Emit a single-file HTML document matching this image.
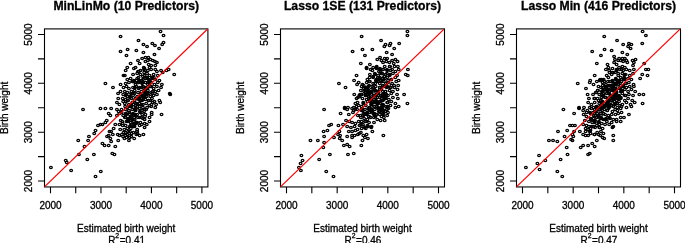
<!DOCTYPE html><html><head><meta charset="utf-8"><style>html,body{margin:0;padding:0;background:#fff;width:685px;height:243px;overflow:hidden}svg{display:block;will-change:transform}text{font-family:"Liberation Sans",sans-serif;fill:#000;stroke:#000;stroke-width:0.3px}</style></head><body>
<svg width="685" height="243" viewBox="0 0 685 243">
<text x="126.2" y="9.5" font-size="12.2" font-weight="bold" text-anchor="middle">MinLinMo (10 Predictors)</text>
<g fill="none" stroke="#000" stroke-width="1.3"><ellipse cx="120.54" cy="36.50" rx="1.35" ry="1.15"/><ellipse cx="120.54" cy="51.50" rx="1.35" ry="1.15"/><ellipse cx="160.54" cy="31.50" rx="1.35" ry="1.15"/><ellipse cx="163.51" cy="35.50" rx="1.35" ry="1.15"/><ellipse cx="138.49" cy="40.50" rx="1.35" ry="1.15"/><ellipse cx="143.42" cy="44.50" rx="1.35" ry="1.15"/><ellipse cx="147.05" cy="46.50" rx="1.35" ry="1.15"/><ellipse cx="152.31" cy="43.50" rx="1.35" ry="1.15"/><ellipse cx="154.95" cy="45.50" rx="1.35" ry="1.15"/><ellipse cx="162.19" cy="44.50" rx="1.35" ry="1.15"/><ellipse cx="163.51" cy="42.50" rx="1.35" ry="1.15"/><ellipse cx="159.06" cy="48.50" rx="1.35" ry="1.15"/><ellipse cx="127.62" cy="49.50" rx="1.35" ry="1.15"/><ellipse cx="136.35" cy="50.50" rx="1.35" ry="1.15"/><ellipse cx="143.42" cy="52.50" rx="1.35" ry="1.15"/><ellipse cx="126.47" cy="55.50" rx="1.35" ry="1.15"/><ellipse cx="154.45" cy="54.50" rx="1.35" ry="1.15"/><ellipse cx="137.99" cy="60.50" rx="1.35" ry="1.15"/><ellipse cx="142.11" cy="58.50" rx="1.35" ry="1.15"/><ellipse cx="145.40" cy="57.50" rx="1.35" ry="1.15"/><ellipse cx="148.36" cy="57.50" rx="1.35" ry="1.15"/><ellipse cx="150.34" cy="59.50" rx="1.35" ry="1.15"/><ellipse cx="152.81" cy="60.50" rx="1.35" ry="1.15"/><ellipse cx="145.40" cy="61.50" rx="1.35" ry="1.15"/><ellipse cx="147.87" cy="60.50" rx="1.35" ry="1.15"/><ellipse cx="154.95" cy="61.50" rx="1.35" ry="1.15"/><ellipse cx="156.92" cy="62.50" rx="1.35" ry="1.15"/><ellipse cx="139.64" cy="63.50" rx="1.35" ry="1.15"/><ellipse cx="130.58" cy="63.50" rx="1.35" ry="1.15"/><ellipse cx="148.69" cy="64.50" rx="1.35" ry="1.15"/><ellipse cx="151.16" cy="65.50" rx="1.35" ry="1.15"/><ellipse cx="155.28" cy="65.50" rx="1.35" ry="1.15"/><ellipse cx="135.52" cy="67.50" rx="1.35" ry="1.15"/><ellipse cx="143.75" cy="67.50" rx="1.35" ry="1.15"/><ellipse cx="127.29" cy="67.50" rx="1.35" ry="1.15"/><ellipse cx="149.51" cy="67.50" rx="1.35" ry="1.15"/><ellipse cx="123.51" cy="75.50" rx="1.35" ry="1.15"/><ellipse cx="105.40" cy="83.50" rx="1.35" ry="1.15"/><ellipse cx="112.97" cy="87.50" rx="1.35" ry="1.15"/><ellipse cx="120.54" cy="84.50" rx="1.35" ry="1.15"/><ellipse cx="123.51" cy="87.50" rx="1.35" ry="1.15"/><ellipse cx="120.54" cy="91.50" rx="1.35" ry="1.15"/><ellipse cx="118.07" cy="93.50" rx="1.35" ry="1.15"/><ellipse cx="123.18" cy="94.50" rx="1.35" ry="1.15"/><ellipse cx="118.24" cy="98.50" rx="1.35" ry="1.15"/><ellipse cx="122.68" cy="98.50" rx="1.35" ry="1.15"/><ellipse cx="116.92" cy="102.50" rx="1.35" ry="1.15"/><ellipse cx="119.39" cy="104.50" rx="1.35" ry="1.15"/><ellipse cx="123.18" cy="101.50" rx="1.35" ry="1.15"/><ellipse cx="125.65" cy="70.50" rx="1.35" ry="1.15"/><ellipse cx="133.88" cy="68.50" rx="1.35" ry="1.15"/><ellipse cx="137.99" cy="71.50" rx="1.35" ry="1.15"/><ellipse cx="140.46" cy="70.50" rx="1.35" ry="1.15"/><ellipse cx="144.08" cy="69.50" rx="1.35" ry="1.15"/><ellipse cx="147.87" cy="70.50" rx="1.35" ry="1.15"/><ellipse cx="151.16" cy="69.50" rx="1.35" ry="1.15"/><ellipse cx="155.28" cy="69.50" rx="1.35" ry="1.15"/><ellipse cx="156.92" cy="71.50" rx="1.35" ry="1.15"/><ellipse cx="161.04" cy="70.50" rx="1.35" ry="1.15"/><ellipse cx="124.82" cy="75.50" rx="1.35" ry="1.15"/><ellipse cx="133.05" cy="74.50" rx="1.35" ry="1.15"/><ellipse cx="137.17" cy="73.50" rx="1.35" ry="1.15"/><ellipse cx="140.46" cy="74.50" rx="1.35" ry="1.15"/><ellipse cx="142.93" cy="76.50" rx="1.35" ry="1.15"/><ellipse cx="147.05" cy="73.50" rx="1.35" ry="1.15"/><ellipse cx="149.51" cy="75.50" rx="1.35" ry="1.15"/><ellipse cx="153.63" cy="74.50" rx="1.35" ry="1.15"/><ellipse cx="157.74" cy="75.50" rx="1.35" ry="1.15"/><ellipse cx="162.68" cy="72.50" rx="1.35" ry="1.15"/><ellipse cx="127.29" cy="79.50" rx="1.35" ry="1.15"/><ellipse cx="130.58" cy="78.50" rx="1.35" ry="1.15"/><ellipse cx="133.88" cy="80.50" rx="1.35" ry="1.15"/><ellipse cx="137.17" cy="78.50" rx="1.35" ry="1.15"/><ellipse cx="139.64" cy="80.50" rx="1.35" ry="1.15"/><ellipse cx="142.93" cy="79.50" rx="1.35" ry="1.15"/><ellipse cx="145.40" cy="78.50" rx="1.35" ry="1.15"/><ellipse cx="148.69" cy="79.50" rx="1.35" ry="1.15"/><ellipse cx="151.98" cy="77.50" rx="1.35" ry="1.15"/><ellipse cx="155.28" cy="79.50" rx="1.35" ry="1.15"/><ellipse cx="159.39" cy="80.50" rx="1.35" ry="1.15"/><ellipse cx="125.65" cy="83.50" rx="1.35" ry="1.15"/><ellipse cx="128.94" cy="82.50" rx="1.35" ry="1.15"/><ellipse cx="132.23" cy="81.50" rx="1.35" ry="1.15"/><ellipse cx="135.52" cy="84.50" rx="1.35" ry="1.15"/><ellipse cx="138.81" cy="82.50" rx="1.35" ry="1.15"/><ellipse cx="142.11" cy="83.50" rx="1.35" ry="1.15"/><ellipse cx="145.40" cy="82.50" rx="1.35" ry="1.15"/><ellipse cx="147.87" cy="84.50" rx="1.35" ry="1.15"/><ellipse cx="151.16" cy="82.50" rx="1.35" ry="1.15"/><ellipse cx="154.45" cy="84.50" rx="1.35" ry="1.15"/><ellipse cx="157.74" cy="82.50" rx="1.35" ry="1.15"/><ellipse cx="161.86" cy="84.50" rx="1.35" ry="1.15"/><ellipse cx="126.47" cy="86.50" rx="1.35" ry="1.15"/><ellipse cx="128.94" cy="88.50" rx="1.35" ry="1.15"/><ellipse cx="133.05" cy="87.50" rx="1.35" ry="1.15"/><ellipse cx="136.35" cy="86.50" rx="1.35" ry="1.15"/><ellipse cx="139.64" cy="87.50" rx="1.35" ry="1.15"/><ellipse cx="142.93" cy="86.50" rx="1.35" ry="1.15"/><ellipse cx="146.22" cy="88.50" rx="1.35" ry="1.15"/><ellipse cx="150.34" cy="86.50" rx="1.35" ry="1.15"/><ellipse cx="153.63" cy="88.50" rx="1.35" ry="1.15"/><ellipse cx="156.92" cy="86.50" rx="1.35" ry="1.15"/><ellipse cx="161.04" cy="87.50" rx="1.35" ry="1.15"/><ellipse cx="124.82" cy="91.50" rx="1.35" ry="1.15"/><ellipse cx="127.29" cy="92.50" rx="1.35" ry="1.15"/><ellipse cx="131.41" cy="91.50" rx="1.35" ry="1.15"/><ellipse cx="134.70" cy="90.50" rx="1.35" ry="1.15"/><ellipse cx="137.99" cy="92.50" rx="1.35" ry="1.15"/><ellipse cx="141.28" cy="91.50" rx="1.35" ry="1.15"/><ellipse cx="144.58" cy="92.50" rx="1.35" ry="1.15"/><ellipse cx="147.87" cy="90.50" rx="1.35" ry="1.15"/><ellipse cx="151.16" cy="92.50" rx="1.35" ry="1.15"/><ellipse cx="155.28" cy="91.50" rx="1.35" ry="1.15"/><ellipse cx="158.57" cy="90.50" rx="1.35" ry="1.15"/><ellipse cx="126.47" cy="94.50" rx="1.35" ry="1.15"/><ellipse cx="129.76" cy="96.50" rx="1.35" ry="1.15"/><ellipse cx="133.05" cy="95.50" rx="1.35" ry="1.15"/><ellipse cx="137.17" cy="96.50" rx="1.35" ry="1.15"/><ellipse cx="140.46" cy="94.50" rx="1.35" ry="1.15"/><ellipse cx="143.75" cy="96.50" rx="1.35" ry="1.15"/><ellipse cx="147.05" cy="94.50" rx="1.35" ry="1.15"/><ellipse cx="150.34" cy="96.50" rx="1.35" ry="1.15"/><ellipse cx="153.63" cy="95.50" rx="1.35" ry="1.15"/><ellipse cx="156.92" cy="94.50" rx="1.35" ry="1.15"/><ellipse cx="125.65" cy="99.50" rx="1.35" ry="1.15"/><ellipse cx="128.12" cy="100.50" rx="1.35" ry="1.15"/><ellipse cx="131.41" cy="98.50" rx="1.35" ry="1.15"/><ellipse cx="134.70" cy="100.50" rx="1.35" ry="1.15"/><ellipse cx="138.81" cy="99.50" rx="1.35" ry="1.15"/><ellipse cx="142.11" cy="100.50" rx="1.35" ry="1.15"/><ellipse cx="145.40" cy="99.50" rx="1.35" ry="1.15"/><ellipse cx="148.69" cy="100.50" rx="1.35" ry="1.15"/><ellipse cx="151.98" cy="98.50" rx="1.35" ry="1.15"/><ellipse cx="154.45" cy="101.50" rx="1.35" ry="1.15"/><ellipse cx="159.39" cy="100.50" rx="1.35" ry="1.15"/><ellipse cx="124.82" cy="103.50" rx="1.35" ry="1.15"/><ellipse cx="128.94" cy="104.50" rx="1.35" ry="1.15"/><ellipse cx="132.23" cy="102.50" rx="1.35" ry="1.15"/><ellipse cx="135.52" cy="105.50" rx="1.35" ry="1.15"/><ellipse cx="139.64" cy="103.50" rx="1.35" ry="1.15"/><ellipse cx="142.93" cy="104.50" rx="1.35" ry="1.15"/><ellipse cx="146.22" cy="103.50" rx="1.35" ry="1.15"/><ellipse cx="149.51" cy="105.50" rx="1.35" ry="1.15"/><ellipse cx="152.81" cy="102.50" rx="1.35" ry="1.15"/><ellipse cx="156.10" cy="104.50" rx="1.35" ry="1.15"/><ellipse cx="160.21" cy="102.50" rx="1.35" ry="1.15"/><ellipse cx="127.29" cy="107.50" rx="1.35" ry="1.15"/><ellipse cx="131.41" cy="106.50" rx="1.35" ry="1.15"/><ellipse cx="135.52" cy="107.50" rx="1.35" ry="1.15"/><ellipse cx="139.64" cy="106.50" rx="1.35" ry="1.15"/><ellipse cx="142.93" cy="107.50" rx="1.35" ry="1.15"/><ellipse cx="147.05" cy="107.50" rx="1.35" ry="1.15"/><ellipse cx="151.16" cy="106.50" rx="1.35" ry="1.15"/><ellipse cx="155.28" cy="107.50" rx="1.35" ry="1.15"/><ellipse cx="166.47" cy="70.50" rx="1.35" ry="1.15"/><ellipse cx="168.61" cy="69.50" rx="1.35" ry="1.15"/><ellipse cx="174.21" cy="74.50" rx="1.35" ry="1.15"/><ellipse cx="169.76" cy="93.50" rx="1.35" ry="1.15"/><ellipse cx="170.26" cy="94.50" rx="1.35" ry="1.15"/><ellipse cx="100.46" cy="108.50" rx="1.35" ry="1.15"/><ellipse cx="105.40" cy="108.50" rx="1.35" ry="1.15"/><ellipse cx="111.16" cy="108.50" rx="1.35" ry="1.15"/><ellipse cx="116.92" cy="109.50" rx="1.35" ry="1.15"/><ellipse cx="118.57" cy="111.50" rx="1.35" ry="1.15"/><ellipse cx="121.53" cy="109.50" rx="1.35" ry="1.15"/><ellipse cx="108.69" cy="113.50" rx="1.35" ry="1.15"/><ellipse cx="110.34" cy="115.50" rx="1.35" ry="1.15"/><ellipse cx="116.92" cy="115.50" rx="1.35" ry="1.15"/><ellipse cx="119.39" cy="113.50" rx="1.35" ry="1.15"/><ellipse cx="123.18" cy="115.50" rx="1.35" ry="1.15"/><ellipse cx="106.72" cy="120.50" rx="1.35" ry="1.15"/><ellipse cx="105.40" cy="122.50" rx="1.35" ry="1.15"/><ellipse cx="97.99" cy="125.50" rx="1.35" ry="1.15"/><ellipse cx="100.46" cy="124.50" rx="1.35" ry="1.15"/><ellipse cx="102.44" cy="124.50" rx="1.35" ry="1.15"/><ellipse cx="115.28" cy="124.50" rx="1.35" ry="1.15"/><ellipse cx="119.39" cy="124.50" rx="1.35" ry="1.15"/><ellipse cx="122.19" cy="121.50" rx="1.35" ry="1.15"/><ellipse cx="122.68" cy="125.50" rx="1.35" ry="1.15"/><ellipse cx="113.63" cy="128.50" rx="1.35" ry="1.15"/><ellipse cx="120.21" cy="129.50" rx="1.35" ry="1.15"/><ellipse cx="95.52" cy="130.50" rx="1.35" ry="1.15"/><ellipse cx="94.21" cy="133.50" rx="1.35" ry="1.15"/><ellipse cx="109.51" cy="131.50" rx="1.35" ry="1.15"/><ellipse cx="111.16" cy="131.50" rx="1.35" ry="1.15"/><ellipse cx="112.81" cy="134.50" rx="1.35" ry="1.15"/><ellipse cx="108.69" cy="135.50" rx="1.35" ry="1.15"/><ellipse cx="117.74" cy="134.50" rx="1.35" ry="1.15"/><ellipse cx="119.39" cy="135.50" rx="1.35" ry="1.15"/><ellipse cx="121.86" cy="134.50" rx="1.35" ry="1.15"/><ellipse cx="123.51" cy="132.50" rx="1.35" ry="1.15"/><ellipse cx="88.94" cy="136.50" rx="1.35" ry="1.15"/><ellipse cx="88.12" cy="140.50" rx="1.35" ry="1.15"/><ellipse cx="107.05" cy="136.50" rx="1.35" ry="1.15"/><ellipse cx="110.34" cy="138.50" rx="1.35" ry="1.15"/><ellipse cx="111.16" cy="141.50" rx="1.35" ry="1.15"/><ellipse cx="118.24" cy="140.50" rx="1.35" ry="1.15"/><ellipse cx="102.44" cy="143.50" rx="1.35" ry="1.15"/><ellipse cx="104.58" cy="145.50" rx="1.35" ry="1.15"/><ellipse cx="108.69" cy="145.50" rx="1.35" ry="1.15"/><ellipse cx="115.28" cy="146.50" rx="1.35" ry="1.15"/><ellipse cx="84.49" cy="146.50" rx="1.35" ry="1.15"/><ellipse cx="125.65" cy="109.50" rx="1.35" ry="1.15"/><ellipse cx="128.94" cy="110.50" rx="1.35" ry="1.15"/><ellipse cx="132.23" cy="109.50" rx="1.35" ry="1.15"/><ellipse cx="135.52" cy="110.50" rx="1.35" ry="1.15"/><ellipse cx="139.64" cy="108.50" rx="1.35" ry="1.15"/><ellipse cx="142.11" cy="110.50" rx="1.35" ry="1.15"/><ellipse cx="144.58" cy="109.50" rx="1.35" ry="1.15"/><ellipse cx="151.65" cy="112.50" rx="1.35" ry="1.15"/><ellipse cx="151.65" cy="114.50" rx="1.35" ry="1.15"/><ellipse cx="161.53" cy="114.50" rx="1.35" ry="1.15"/><ellipse cx="125.65" cy="113.50" rx="1.35" ry="1.15"/><ellipse cx="129.76" cy="114.50" rx="1.35" ry="1.15"/><ellipse cx="133.05" cy="113.50" rx="1.35" ry="1.15"/><ellipse cx="137.17" cy="114.50" rx="1.35" ry="1.15"/><ellipse cx="140.46" cy="112.50" rx="1.35" ry="1.15"/><ellipse cx="145.40" cy="114.50" rx="1.35" ry="1.15"/><ellipse cx="124.82" cy="117.50" rx="1.35" ry="1.15"/><ellipse cx="128.12" cy="118.50" rx="1.35" ry="1.15"/><ellipse cx="131.41" cy="117.50" rx="1.35" ry="1.15"/><ellipse cx="134.70" cy="119.50" rx="1.35" ry="1.15"/><ellipse cx="137.99" cy="117.50" rx="1.35" ry="1.15"/><ellipse cx="141.28" cy="117.50" rx="1.35" ry="1.15"/><ellipse cx="144.58" cy="119.50" rx="1.35" ry="1.15"/><ellipse cx="149.51" cy="117.50" rx="1.35" ry="1.15"/><ellipse cx="149.51" cy="121.50" rx="1.35" ry="1.15"/><ellipse cx="126.47" cy="121.50" rx="1.35" ry="1.15"/><ellipse cx="130.58" cy="120.50" rx="1.35" ry="1.15"/><ellipse cx="133.88" cy="121.50" rx="1.35" ry="1.15"/><ellipse cx="137.17" cy="122.50" rx="1.35" ry="1.15"/><ellipse cx="140.46" cy="122.50" rx="1.35" ry="1.15"/><ellipse cx="146.72" cy="124.50" rx="1.35" ry="1.15"/><ellipse cx="125.65" cy="125.50" rx="1.35" ry="1.15"/><ellipse cx="130.58" cy="125.50" rx="1.35" ry="1.15"/><ellipse cx="139.64" cy="125.50" rx="1.35" ry="1.15"/><ellipse cx="144.58" cy="127.50" rx="1.35" ry="1.15"/><ellipse cx="127.29" cy="128.50" rx="1.35" ry="1.15"/><ellipse cx="137.17" cy="129.50" rx="1.35" ry="1.15"/><ellipse cx="125.65" cy="132.50" rx="1.35" ry="1.15"/><ellipse cx="128.12" cy="131.50" rx="1.35" ry="1.15"/><ellipse cx="137.17" cy="131.50" rx="1.35" ry="1.15"/><ellipse cx="127.29" cy="134.50" rx="1.35" ry="1.15"/><ellipse cx="136.35" cy="134.50" rx="1.35" ry="1.15"/><ellipse cx="139.64" cy="135.50" rx="1.35" ry="1.15"/><ellipse cx="143.42" cy="134.50" rx="1.35" ry="1.15"/><ellipse cx="126.47" cy="137.50" rx="1.35" ry="1.15"/><ellipse cx="129.76" cy="137.50" rx="1.35" ry="1.15"/><ellipse cx="134.21" cy="138.50" rx="1.35" ry="1.15"/><ellipse cx="128.94" cy="140.50" rx="1.35" ry="1.15"/><ellipse cx="83.01" cy="109.50" rx="1.35" ry="1.15"/><ellipse cx="78.24" cy="140.50" rx="1.35" ry="1.15"/><ellipse cx="50.91" cy="167.50" rx="1.35" ry="1.15"/><ellipse cx="65.73" cy="160.50" rx="1.35" ry="1.15"/><ellipse cx="66.72" cy="162.50" rx="1.35" ry="1.15"/><ellipse cx="71.16" cy="170.50" rx="1.35" ry="1.15"/><ellipse cx="78.90" cy="154.50" rx="1.35" ry="1.15"/><ellipse cx="93.88" cy="154.50" rx="1.35" ry="1.15"/><ellipse cx="87.29" cy="159.50" rx="1.35" ry="1.15"/><ellipse cx="112.31" cy="153.50" rx="1.35" ry="1.15"/><ellipse cx="114.45" cy="154.50" rx="1.35" ry="1.15"/><ellipse cx="100.79" cy="171.50" rx="1.35" ry="1.15"/><ellipse cx="95.52" cy="176.50" rx="1.35" ry="1.15"/><ellipse cx="134.14" cy="117.50" rx="1.35" ry="1.15"/><ellipse cx="139.59" cy="81.50" rx="1.35" ry="1.15"/><ellipse cx="130.23" cy="117.50" rx="1.35" ry="1.15"/><ellipse cx="148.87" cy="93.50" rx="1.35" ry="1.15"/><ellipse cx="121.63" cy="112.50" rx="1.35" ry="1.15"/><ellipse cx="145.43" cy="88.50" rx="1.35" ry="1.15"/><ellipse cx="153.78" cy="77.50" rx="1.35" ry="1.15"/><ellipse cx="135.38" cy="98.50" rx="1.35" ry="1.15"/><ellipse cx="125.15" cy="106.50" rx="1.35" ry="1.15"/><ellipse cx="139.61" cy="96.50" rx="1.35" ry="1.15"/><ellipse cx="135.65" cy="103.50" rx="1.35" ry="1.15"/><ellipse cx="144.70" cy="95.50" rx="1.35" ry="1.15"/><ellipse cx="145.58" cy="82.50" rx="1.35" ry="1.15"/><ellipse cx="133.48" cy="126.50" rx="1.35" ry="1.15"/><ellipse cx="128.94" cy="118.50" rx="1.35" ry="1.15"/><ellipse cx="129.95" cy="120.50" rx="1.35" ry="1.15"/><ellipse cx="135.35" cy="110.50" rx="1.35" ry="1.15"/><ellipse cx="132.66" cy="81.50" rx="1.35" ry="1.15"/><ellipse cx="141.40" cy="104.50" rx="1.35" ry="1.15"/><ellipse cx="140.28" cy="100.50" rx="1.35" ry="1.15"/><ellipse cx="131.00" cy="93.50" rx="1.35" ry="1.15"/><ellipse cx="134.98" cy="87.50" rx="1.35" ry="1.15"/><ellipse cx="144.44" cy="68.50" rx="1.35" ry="1.15"/><ellipse cx="141.77" cy="87.50" rx="1.35" ry="1.15"/><ellipse cx="138.69" cy="82.50" rx="1.35" ry="1.15"/><ellipse cx="142.53" cy="82.50" rx="1.35" ry="1.15"/><ellipse cx="149.61" cy="80.50" rx="1.35" ry="1.15"/><ellipse cx="132.91" cy="93.50" rx="1.35" ry="1.15"/><ellipse cx="145.72" cy="87.50" rx="1.35" ry="1.15"/><ellipse cx="144.15" cy="72.50" rx="1.35" ry="1.15"/><ellipse cx="144.85" cy="91.50" rx="1.35" ry="1.15"/><ellipse cx="141.12" cy="94.50" rx="1.35" ry="1.15"/><ellipse cx="134.50" cy="93.50" rx="1.35" ry="1.15"/><ellipse cx="129.47" cy="112.50" rx="1.35" ry="1.15"/><ellipse cx="152.59" cy="93.50" rx="1.35" ry="1.15"/><ellipse cx="151.26" cy="86.50" rx="1.35" ry="1.15"/><ellipse cx="147.50" cy="88.50" rx="1.35" ry="1.15"/><ellipse cx="144.80" cy="97.50" rx="1.35" ry="1.15"/><ellipse cx="145.24" cy="70.50" rx="1.35" ry="1.15"/><ellipse cx="146.64" cy="96.50" rx="1.35" ry="1.15"/><ellipse cx="134.24" cy="81.50" rx="1.35" ry="1.15"/><ellipse cx="144.63" cy="97.50" rx="1.35" ry="1.15"/><ellipse cx="132.05" cy="93.50" rx="1.35" ry="1.15"/><ellipse cx="140.20" cy="100.50" rx="1.35" ry="1.15"/><ellipse cx="149.44" cy="83.50" rx="1.35" ry="1.15"/><ellipse cx="148.51" cy="100.50" rx="1.35" ry="1.15"/><ellipse cx="139.80" cy="111.50" rx="1.35" ry="1.15"/><ellipse cx="141.89" cy="80.50" rx="1.35" ry="1.15"/><ellipse cx="143.27" cy="95.50" rx="1.35" ry="1.15"/><ellipse cx="138.92" cy="71.50" rx="1.35" ry="1.15"/><ellipse cx="142.89" cy="99.50" rx="1.35" ry="1.15"/><ellipse cx="136.60" cy="80.50" rx="1.35" ry="1.15"/><ellipse cx="137.41" cy="104.50" rx="1.35" ry="1.15"/><ellipse cx="150.33" cy="100.50" rx="1.35" ry="1.15"/><ellipse cx="151.55" cy="104.50" rx="1.35" ry="1.15"/><ellipse cx="130.68" cy="106.50" rx="1.35" ry="1.15"/><ellipse cx="152.65" cy="91.50" rx="1.35" ry="1.15"/><ellipse cx="143.85" cy="88.50" rx="1.35" ry="1.15"/><ellipse cx="122.67" cy="123.50" rx="1.35" ry="1.15"/><ellipse cx="130.65" cy="105.50" rx="1.35" ry="1.15"/><ellipse cx="138.69" cy="88.50" rx="1.35" ry="1.15"/><ellipse cx="142.93" cy="86.50" rx="1.35" ry="1.15"/><ellipse cx="137.07" cy="103.50" rx="1.35" ry="1.15"/><ellipse cx="146.80" cy="93.50" rx="1.35" ry="1.15"/><ellipse cx="133.64" cy="104.50" rx="1.35" ry="1.15"/><ellipse cx="144.60" cy="75.50" rx="1.35" ry="1.15"/><ellipse cx="126.09" cy="101.50" rx="1.35" ry="1.15"/><ellipse cx="140.48" cy="96.50" rx="1.35" ry="1.15"/><ellipse cx="147.14" cy="77.50" rx="1.35" ry="1.15"/><ellipse cx="130.55" cy="122.50" rx="1.35" ry="1.15"/><ellipse cx="148.43" cy="82.50" rx="1.35" ry="1.15"/><ellipse cx="125.62" cy="95.50" rx="1.35" ry="1.15"/><ellipse cx="142.20" cy="114.50" rx="1.35" ry="1.15"/><ellipse cx="136.22" cy="123.50" rx="1.35" ry="1.15"/><ellipse cx="135.25" cy="82.50" rx="1.35" ry="1.15"/><ellipse cx="128.98" cy="106.50" rx="1.35" ry="1.15"/><ellipse cx="126.38" cy="114.50" rx="1.35" ry="1.15"/><ellipse cx="150.03" cy="81.50" rx="1.35" ry="1.15"/><ellipse cx="129.87" cy="97.50" rx="1.35" ry="1.15"/><ellipse cx="127.45" cy="96.50" rx="1.35" ry="1.15"/><ellipse cx="133.51" cy="126.50" rx="1.35" ry="1.15"/><ellipse cx="152.17" cy="78.50" rx="1.35" ry="1.15"/><ellipse cx="147.19" cy="78.50" rx="1.35" ry="1.15"/><ellipse cx="134.72" cy="109.50" rx="1.35" ry="1.15"/><ellipse cx="127.60" cy="100.50" rx="1.35" ry="1.15"/><ellipse cx="139.10" cy="98.50" rx="1.35" ry="1.15"/><ellipse cx="146.15" cy="109.50" rx="1.35" ry="1.15"/><ellipse cx="143.36" cy="96.50" rx="1.35" ry="1.15"/><ellipse cx="138.50" cy="77.50" rx="1.35" ry="1.15"/><ellipse cx="144.09" cy="111.50" rx="1.35" ry="1.15"/><ellipse cx="142.92" cy="118.50" rx="1.35" ry="1.15"/><ellipse cx="124.25" cy="129.50" rx="1.35" ry="1.15"/><ellipse cx="144.69" cy="123.50" rx="1.35" ry="1.15"/><ellipse cx="125.53" cy="117.50" rx="1.35" ry="1.15"/><ellipse cx="129.94" cy="131.50" rx="1.35" ry="1.15"/><ellipse cx="134.62" cy="114.50" rx="1.35" ry="1.15"/><ellipse cx="129.85" cy="126.50" rx="1.35" ry="1.15"/><ellipse cx="127.78" cy="120.50" rx="1.35" ry="1.15"/><ellipse cx="134.06" cy="124.50" rx="1.35" ry="1.15"/><ellipse cx="136.07" cy="108.50" rx="1.35" ry="1.15"/><ellipse cx="127.92" cy="112.50" rx="1.35" ry="1.15"/><ellipse cx="135.54" cy="115.50" rx="1.35" ry="1.15"/><ellipse cx="130.77" cy="128.50" rx="1.35" ry="1.15"/><ellipse cx="132.44" cy="114.50" rx="1.35" ry="1.15"/><ellipse cx="144.99" cy="116.50" rx="1.35" ry="1.15"/><ellipse cx="131.35" cy="136.50" rx="1.35" ry="1.15"/><ellipse cx="136.85" cy="131.50" rx="1.35" ry="1.15"/><ellipse cx="133.99" cy="123.50" rx="1.35" ry="1.15"/><ellipse cx="129.57" cy="118.50" rx="1.35" ry="1.15"/><ellipse cx="127.79" cy="121.50" rx="1.35" ry="1.15"/><ellipse cx="120.67" cy="120.50" rx="1.35" ry="1.15"/><ellipse cx="123.03" cy="136.50" rx="1.35" ry="1.15"/><ellipse cx="139.47" cy="117.50" rx="1.35" ry="1.15"/><ellipse cx="128.80" cy="119.50" rx="1.35" ry="1.15"/><ellipse cx="133.39" cy="132.50" rx="1.35" ry="1.15"/><ellipse cx="131.57" cy="133.50" rx="1.35" ry="1.15"/><ellipse cx="134.34" cy="114.50" rx="1.35" ry="1.15"/><ellipse cx="133.63" cy="119.50" rx="1.35" ry="1.15"/><ellipse cx="129.19" cy="135.50" rx="1.35" ry="1.15"/><ellipse cx="124.42" cy="138.50" rx="1.35" ry="1.15"/><ellipse cx="141.74" cy="124.50" rx="1.35" ry="1.15"/><ellipse cx="125.33" cy="135.50" rx="1.35" ry="1.15"/><ellipse cx="136.41" cy="122.50" rx="1.35" ry="1.15"/><ellipse cx="137.50" cy="133.50" rx="1.35" ry="1.15"/><ellipse cx="134.54" cy="126.50" rx="1.35" ry="1.15"/></g>
<rect x="44.50" y="28.90" width="163.40" height="158.05" fill="none" stroke="#000" stroke-width="1.1"/>
<path d="M50.50 186.95V193.15M44.5 181.0H38.0M75.73 186.95V193.15M44.5 156.6H38.0M100.97 186.95V193.15M44.5 132.2H38.0M126.20 186.95V193.15M44.5 107.8H38.0M151.43 186.95V193.15M44.5 83.3H38.0M176.67 186.95V193.15M44.5 58.9H38.0M201.90 186.95V193.15M44.5 34.5H38.0" stroke="#000" stroke-width="1.1" fill="none"/>
<clipPath id="c0"><rect x="44.50" y="28.90" width="163.40" height="158.05"/></clipPath>
<line clip-path="url(#c0)" x1="35.36" y1="195.65" x2="217.04" y2="19.85" stroke="#f00" stroke-width="1.2"/>
<text x="50.5" y="208.5" font-size="10" text-anchor="middle">2000</text>
<text transform="translate(31.9,181.0) rotate(-90)" font-size="10" text-anchor="middle">2000</text>
<text x="101.0" y="208.5" font-size="10" text-anchor="middle">3000</text>
<text transform="translate(31.9,132.2) rotate(-90)" font-size="10" text-anchor="middle">3000</text>
<text x="151.4" y="208.5" font-size="10" text-anchor="middle">4000</text>
<text transform="translate(31.9,83.3) rotate(-90)" font-size="10" text-anchor="middle">4000</text>
<text x="201.9" y="208.5" font-size="10" text-anchor="middle">5000</text>
<text transform="translate(31.9,34.5) rotate(-90)" font-size="10" text-anchor="middle">5000</text>
<text x="126.2" y="232.0" font-size="10" text-anchor="middle">Estimated birth weight</text>
<text transform="translate(8.0,107.9) rotate(-90)" font-size="10" text-anchor="middle">Birth weight</text>
<text x="126.6" y="243.5" font-size="10" text-anchor="middle">R<tspan dy="-5.5" font-size="6.8">2</tspan><tspan dy="5.5" dx="0.6">=0.41</tspan></text>
<text x="362.5" y="9.5" font-size="12.2" font-weight="bold" text-anchor="middle">Lasso 1SE (131 Predictors)</text>
<g fill="none" stroke="#000" stroke-width="1.3"><ellipse cx="352.59" cy="51.50" rx="1.35" ry="1.15"/><ellipse cx="361.65" cy="36.50" rx="1.35" ry="1.15"/><ellipse cx="381.07" cy="40.50" rx="1.35" ry="1.15"/><ellipse cx="385.51" cy="44.50" rx="1.35" ry="1.15"/><ellipse cx="384.36" cy="46.50" rx="1.35" ry="1.15"/><ellipse cx="390.45" cy="43.50" rx="1.35" ry="1.15"/><ellipse cx="389.63" cy="45.50" rx="1.35" ry="1.15"/><ellipse cx="399.18" cy="43.50" rx="1.35" ry="1.15"/><ellipse cx="394.24" cy="48.50" rx="1.35" ry="1.15"/><ellipse cx="362.47" cy="49.50" rx="1.35" ry="1.15"/><ellipse cx="372.35" cy="49.50" rx="1.35" ry="1.15"/><ellipse cx="386.67" cy="52.50" rx="1.35" ry="1.15"/><ellipse cx="392.10" cy="54.50" rx="1.35" ry="1.15"/><ellipse cx="364.94" cy="55.50" rx="1.35" ry="1.15"/><ellipse cx="377.28" cy="59.50" rx="1.35" ry="1.15"/><ellipse cx="380.08" cy="57.50" rx="1.35" ry="1.15"/><ellipse cx="381.40" cy="60.50" rx="1.35" ry="1.15"/><ellipse cx="384.69" cy="58.50" rx="1.35" ry="1.15"/><ellipse cx="387.16" cy="58.50" rx="1.35" ry="1.15"/><ellipse cx="383.05" cy="62.50" rx="1.35" ry="1.15"/><ellipse cx="386.34" cy="61.50" rx="1.35" ry="1.15"/><ellipse cx="389.30" cy="62.50" rx="1.35" ry="1.15"/><ellipse cx="392.10" cy="60.50" rx="1.35" ry="1.15"/><ellipse cx="395.39" cy="59.50" rx="1.35" ry="1.15"/><ellipse cx="397.53" cy="61.50" rx="1.35" ry="1.15"/><ellipse cx="393.74" cy="63.50" rx="1.35" ry="1.15"/><ellipse cx="360.82" cy="63.50" rx="1.35" ry="1.15"/><ellipse cx="369.88" cy="64.50" rx="1.35" ry="1.15"/><ellipse cx="384.69" cy="66.50" rx="1.35" ry="1.15"/><ellipse cx="389.63" cy="66.50" rx="1.35" ry="1.15"/><ellipse cx="394.57" cy="66.50" rx="1.35" ry="1.15"/><ellipse cx="397.86" cy="66.50" rx="1.35" ry="1.15"/><ellipse cx="366.58" cy="67.50" rx="1.35" ry="1.15"/><ellipse cx="373.17" cy="67.50" rx="1.35" ry="1.15"/><ellipse cx="376.46" cy="67.50" rx="1.35" ry="1.15"/><ellipse cx="407.41" cy="31.50" rx="1.35" ry="1.15"/><ellipse cx="407.41" cy="35.50" rx="1.35" ry="1.15"/><ellipse cx="356.54" cy="75.50" rx="1.35" ry="1.15"/><ellipse cx="354.07" cy="80.50" rx="1.35" ry="1.15"/><ellipse cx="357.04" cy="84.50" rx="1.35" ry="1.15"/><ellipse cx="358.68" cy="82.50" rx="1.35" ry="1.15"/><ellipse cx="338.93" cy="83.50" rx="1.35" ry="1.15"/><ellipse cx="345.51" cy="87.50" rx="1.35" ry="1.15"/><ellipse cx="354.24" cy="94.50" rx="1.35" ry="1.15"/><ellipse cx="356.54" cy="98.50" rx="1.35" ry="1.15"/><ellipse cx="357.86" cy="97.50" rx="1.35" ry="1.15"/><ellipse cx="355.39" cy="103.50" rx="1.35" ry="1.15"/><ellipse cx="357.53" cy="102.50" rx="1.35" ry="1.15"/><ellipse cx="358.68" cy="105.50" rx="1.35" ry="1.15"/><ellipse cx="356.54" cy="106.50" rx="1.35" ry="1.15"/><ellipse cx="344.69" cy="107.50" rx="1.35" ry="1.15"/><ellipse cx="347.98" cy="107.50" rx="1.35" ry="1.15"/><ellipse cx="353.74" cy="107.50" rx="1.35" ry="1.15"/><ellipse cx="366.58" cy="68.50" rx="1.35" ry="1.15"/><ellipse cx="372.35" cy="70.50" rx="1.35" ry="1.15"/><ellipse cx="376.46" cy="68.50" rx="1.35" ry="1.15"/><ellipse cx="378.93" cy="71.50" rx="1.35" ry="1.15"/><ellipse cx="383.05" cy="69.50" rx="1.35" ry="1.15"/><ellipse cx="387.16" cy="70.50" rx="1.35" ry="1.15"/><ellipse cx="390.45" cy="70.50" rx="1.35" ry="1.15"/><ellipse cx="395.39" cy="71.50" rx="1.35" ry="1.15"/><ellipse cx="398.68" cy="69.50" rx="1.35" ry="1.15"/><ellipse cx="369.88" cy="74.50" rx="1.35" ry="1.15"/><ellipse cx="374.81" cy="73.50" rx="1.35" ry="1.15"/><ellipse cx="378.11" cy="75.50" rx="1.35" ry="1.15"/><ellipse cx="382.22" cy="73.50" rx="1.35" ry="1.15"/><ellipse cx="385.51" cy="74.50" rx="1.35" ry="1.15"/><ellipse cx="389.63" cy="75.50" rx="1.35" ry="1.15"/><ellipse cx="392.92" cy="73.50" rx="1.35" ry="1.15"/><ellipse cx="397.04" cy="75.50" rx="1.35" ry="1.15"/><ellipse cx="367.41" cy="79.50" rx="1.35" ry="1.15"/><ellipse cx="373.17" cy="77.50" rx="1.35" ry="1.15"/><ellipse cx="376.46" cy="79.50" rx="1.35" ry="1.15"/><ellipse cx="379.75" cy="77.50" rx="1.35" ry="1.15"/><ellipse cx="383.05" cy="78.50" rx="1.35" ry="1.15"/><ellipse cx="387.16" cy="77.50" rx="1.35" ry="1.15"/><ellipse cx="391.28" cy="79.50" rx="1.35" ry="1.15"/><ellipse cx="395.39" cy="77.50" rx="1.35" ry="1.15"/><ellipse cx="398.68" cy="80.50" rx="1.35" ry="1.15"/><ellipse cx="362.47" cy="84.50" rx="1.35" ry="1.15"/><ellipse cx="369.88" cy="81.50" rx="1.35" ry="1.15"/><ellipse cx="373.17" cy="83.50" rx="1.35" ry="1.15"/><ellipse cx="376.46" cy="81.50" rx="1.35" ry="1.15"/><ellipse cx="379.75" cy="83.50" rx="1.35" ry="1.15"/><ellipse cx="383.87" cy="81.50" rx="1.35" ry="1.15"/><ellipse cx="387.98" cy="82.50" rx="1.35" ry="1.15"/><ellipse cx="392.10" cy="83.50" rx="1.35" ry="1.15"/><ellipse cx="396.21" cy="81.50" rx="1.35" ry="1.15"/><ellipse cx="361.65" cy="86.50" rx="1.35" ry="1.15"/><ellipse cx="365.76" cy="87.50" rx="1.35" ry="1.15"/><ellipse cx="369.05" cy="85.50" rx="1.35" ry="1.15"/><ellipse cx="372.35" cy="86.50" rx="1.35" ry="1.15"/><ellipse cx="375.64" cy="86.50" rx="1.35" ry="1.15"/><ellipse cx="379.75" cy="87.50" rx="1.35" ry="1.15"/><ellipse cx="383.87" cy="86.50" rx="1.35" ry="1.15"/><ellipse cx="387.16" cy="86.50" rx="1.35" ry="1.15"/><ellipse cx="391.28" cy="85.50" rx="1.35" ry="1.15"/><ellipse cx="394.57" cy="87.50" rx="1.35" ry="1.15"/><ellipse cx="398.19" cy="85.50" rx="1.35" ry="1.15"/><ellipse cx="360.82" cy="90.50" rx="1.35" ry="1.15"/><ellipse cx="364.12" cy="91.50" rx="1.35" ry="1.15"/><ellipse cx="367.41" cy="89.50" rx="1.35" ry="1.15"/><ellipse cx="371.52" cy="91.50" rx="1.35" ry="1.15"/><ellipse cx="374.81" cy="90.50" rx="1.35" ry="1.15"/><ellipse cx="378.11" cy="91.50" rx="1.35" ry="1.15"/><ellipse cx="381.40" cy="89.50" rx="1.35" ry="1.15"/><ellipse cx="385.51" cy="91.50" rx="1.35" ry="1.15"/><ellipse cx="389.63" cy="90.50" rx="1.35" ry="1.15"/><ellipse cx="392.92" cy="91.50" rx="1.35" ry="1.15"/><ellipse cx="397.53" cy="89.50" rx="1.35" ry="1.15"/><ellipse cx="361.65" cy="94.50" rx="1.35" ry="1.15"/><ellipse cx="365.76" cy="95.50" rx="1.35" ry="1.15"/><ellipse cx="369.05" cy="93.50" rx="1.35" ry="1.15"/><ellipse cx="373.17" cy="95.50" rx="1.35" ry="1.15"/><ellipse cx="376.46" cy="94.50" rx="1.35" ry="1.15"/><ellipse cx="380.58" cy="95.50" rx="1.35" ry="1.15"/><ellipse cx="384.69" cy="94.50" rx="1.35" ry="1.15"/><ellipse cx="387.98" cy="95.50" rx="1.35" ry="1.15"/><ellipse cx="391.28" cy="93.50" rx="1.35" ry="1.15"/><ellipse cx="397.04" cy="94.50" rx="1.35" ry="1.15"/><ellipse cx="362.47" cy="98.50" rx="1.35" ry="1.15"/><ellipse cx="366.58" cy="99.50" rx="1.35" ry="1.15"/><ellipse cx="369.88" cy="97.50" rx="1.35" ry="1.15"/><ellipse cx="373.99" cy="99.50" rx="1.35" ry="1.15"/><ellipse cx="377.28" cy="97.50" rx="1.35" ry="1.15"/><ellipse cx="381.40" cy="100.50" rx="1.35" ry="1.15"/><ellipse cx="385.51" cy="98.50" rx="1.35" ry="1.15"/><ellipse cx="388.81" cy="99.50" rx="1.35" ry="1.15"/><ellipse cx="392.92" cy="97.50" rx="1.35" ry="1.15"/><ellipse cx="397.86" cy="98.50" rx="1.35" ry="1.15"/><ellipse cx="363.29" cy="102.50" rx="1.35" ry="1.15"/><ellipse cx="367.41" cy="101.50" rx="1.35" ry="1.15"/><ellipse cx="371.52" cy="103.50" rx="1.35" ry="1.15"/><ellipse cx="375.64" cy="102.50" rx="1.35" ry="1.15"/><ellipse cx="379.75" cy="101.50" rx="1.35" ry="1.15"/><ellipse cx="383.05" cy="104.50" rx="1.35" ry="1.15"/><ellipse cx="387.16" cy="102.50" rx="1.35" ry="1.15"/><ellipse cx="391.28" cy="101.50" rx="1.35" ry="1.15"/><ellipse cx="395.39" cy="103.50" rx="1.35" ry="1.15"/><ellipse cx="361.65" cy="106.50" rx="1.35" ry="1.15"/><ellipse cx="365.76" cy="105.50" rx="1.35" ry="1.15"/><ellipse cx="369.88" cy="107.50" rx="1.35" ry="1.15"/><ellipse cx="373.99" cy="106.50" rx="1.35" ry="1.15"/><ellipse cx="378.11" cy="107.50" rx="1.35" ry="1.15"/><ellipse cx="382.22" cy="106.50" rx="1.35" ry="1.15"/><ellipse cx="387.16" cy="107.50" rx="1.35" ry="1.15"/><ellipse cx="390.45" cy="105.50" rx="1.35" ry="1.15"/><ellipse cx="395.39" cy="107.50" rx="1.35" ry="1.15"/><ellipse cx="398.68" cy="106.50" rx="1.35" ry="1.15"/><ellipse cx="407.90" cy="69.50" rx="1.35" ry="1.15"/><ellipse cx="405.76" cy="74.50" rx="1.35" ry="1.15"/><ellipse cx="407.74" cy="75.50" rx="1.35" ry="1.15"/><ellipse cx="404.12" cy="94.50" rx="1.35" ry="1.15"/><ellipse cx="407.41" cy="103.50" rx="1.35" ry="1.15"/><ellipse cx="310.45" cy="140.50" rx="1.35" ry="1.15"/><ellipse cx="317.86" cy="140.50" rx="1.35" ry="1.15"/><ellipse cx="324.12" cy="109.50" rx="1.35" ry="1.15"/><ellipse cx="340.58" cy="113.50" rx="1.35" ry="1.15"/><ellipse cx="344.69" cy="108.50" rx="1.35" ry="1.15"/><ellipse cx="347.16" cy="109.50" rx="1.35" ry="1.15"/><ellipse cx="352.10" cy="108.50" rx="1.35" ry="1.15"/><ellipse cx="353.74" cy="110.50" rx="1.35" ry="1.15"/><ellipse cx="357.04" cy="109.50" rx="1.35" ry="1.15"/><ellipse cx="348.81" cy="114.50" rx="1.35" ry="1.15"/><ellipse cx="352.92" cy="112.50" rx="1.35" ry="1.15"/><ellipse cx="357.86" cy="115.50" rx="1.35" ry="1.15"/><ellipse cx="346.01" cy="120.50" rx="1.35" ry="1.15"/><ellipse cx="349.30" cy="121.50" rx="1.35" ry="1.15"/><ellipse cx="352.10" cy="122.50" rx="1.35" ry="1.15"/><ellipse cx="355.39" cy="123.50" rx="1.35" ry="1.15"/><ellipse cx="358.68" cy="121.50" rx="1.35" ry="1.15"/><ellipse cx="359.51" cy="125.50" rx="1.35" ry="1.15"/><ellipse cx="329.05" cy="125.50" rx="1.35" ry="1.15"/><ellipse cx="331.19" cy="124.50" rx="1.35" ry="1.15"/><ellipse cx="338.44" cy="125.50" rx="1.35" ry="1.15"/><ellipse cx="343.05" cy="124.50" rx="1.35" ry="1.15"/><ellipse cx="347.16" cy="126.50" rx="1.35" ry="1.15"/><ellipse cx="350.95" cy="127.50" rx="1.35" ry="1.15"/><ellipse cx="354.57" cy="126.50" rx="1.35" ry="1.15"/><ellipse cx="357.53" cy="129.50" rx="1.35" ry="1.15"/><ellipse cx="327.41" cy="130.50" rx="1.35" ry="1.15"/><ellipse cx="323.62" cy="131.50" rx="1.35" ry="1.15"/><ellipse cx="339.42" cy="131.50" rx="1.35" ry="1.15"/><ellipse cx="348.81" cy="131.50" rx="1.35" ry="1.15"/><ellipse cx="352.10" cy="131.50" rx="1.35" ry="1.15"/><ellipse cx="355.39" cy="130.50" rx="1.35" ry="1.15"/><ellipse cx="359.18" cy="133.50" rx="1.35" ry="1.15"/><ellipse cx="338.11" cy="134.50" rx="1.35" ry="1.15"/><ellipse cx="340.08" cy="135.50" rx="1.35" ry="1.15"/><ellipse cx="352.10" cy="135.50" rx="1.35" ry="1.15"/><ellipse cx="354.57" cy="135.50" rx="1.35" ry="1.15"/><ellipse cx="357.86" cy="134.50" rx="1.35" ry="1.15"/><ellipse cx="324.12" cy="136.50" rx="1.35" ry="1.15"/><ellipse cx="333.99" cy="137.50" rx="1.35" ry="1.15"/><ellipse cx="347.16" cy="136.50" rx="1.35" ry="1.15"/><ellipse cx="339.75" cy="138.50" rx="1.35" ry="1.15"/><ellipse cx="342.22" cy="140.50" rx="1.35" ry="1.15"/><ellipse cx="352.10" cy="137.50" rx="1.35" ry="1.15"/><ellipse cx="324.12" cy="142.50" rx="1.35" ry="1.15"/><ellipse cx="343.87" cy="145.50" rx="1.35" ry="1.15"/><ellipse cx="347.16" cy="144.50" rx="1.35" ry="1.15"/><ellipse cx="349.63" cy="146.50" rx="1.35" ry="1.15"/><ellipse cx="323.29" cy="147.50" rx="1.35" ry="1.15"/><ellipse cx="361.65" cy="110.50" rx="1.35" ry="1.15"/><ellipse cx="364.94" cy="109.50" rx="1.35" ry="1.15"/><ellipse cx="368.23" cy="108.50" rx="1.35" ry="1.15"/><ellipse cx="371.52" cy="110.50" rx="1.35" ry="1.15"/><ellipse cx="374.81" cy="109.50" rx="1.35" ry="1.15"/><ellipse cx="378.11" cy="108.50" rx="1.35" ry="1.15"/><ellipse cx="381.40" cy="110.50" rx="1.35" ry="1.15"/><ellipse cx="383.87" cy="110.50" rx="1.35" ry="1.15"/><ellipse cx="388.31" cy="108.50" rx="1.35" ry="1.15"/><ellipse cx="387.98" cy="112.50" rx="1.35" ry="1.15"/><ellipse cx="387.16" cy="115.50" rx="1.35" ry="1.15"/><ellipse cx="383.87" cy="117.50" rx="1.35" ry="1.15"/><ellipse cx="384.69" cy="120.50" rx="1.35" ry="1.15"/><ellipse cx="380.58" cy="120.50" rx="1.35" ry="1.15"/><ellipse cx="377.28" cy="119.50" rx="1.35" ry="1.15"/><ellipse cx="373.99" cy="117.50" rx="1.35" ry="1.15"/><ellipse cx="376.46" cy="114.50" rx="1.35" ry="1.15"/><ellipse cx="379.75" cy="114.50" rx="1.35" ry="1.15"/><ellipse cx="373.17" cy="113.50" rx="1.35" ry="1.15"/><ellipse cx="369.88" cy="112.50" rx="1.35" ry="1.15"/><ellipse cx="366.58" cy="114.50" rx="1.35" ry="1.15"/><ellipse cx="363.29" cy="115.50" rx="1.35" ry="1.15"/><ellipse cx="360.82" cy="117.50" rx="1.35" ry="1.15"/><ellipse cx="364.12" cy="118.50" rx="1.35" ry="1.15"/><ellipse cx="367.41" cy="119.50" rx="1.35" ry="1.15"/><ellipse cx="370.70" cy="117.50" rx="1.35" ry="1.15"/><ellipse cx="361.65" cy="121.50" rx="1.35" ry="1.15"/><ellipse cx="364.94" cy="121.50" rx="1.35" ry="1.15"/><ellipse cx="369.05" cy="122.50" rx="1.35" ry="1.15"/><ellipse cx="373.99" cy="122.50" rx="1.35" ry="1.15"/><ellipse cx="360.82" cy="124.50" rx="1.35" ry="1.15"/><ellipse cx="363.29" cy="126.50" rx="1.35" ry="1.15"/><ellipse cx="367.41" cy="125.50" rx="1.35" ry="1.15"/><ellipse cx="371.52" cy="126.50" rx="1.35" ry="1.15"/><ellipse cx="365.76" cy="128.50" rx="1.35" ry="1.15"/><ellipse cx="361.65" cy="128.50" rx="1.35" ry="1.15"/><ellipse cx="372.35" cy="131.50" rx="1.35" ry="1.15"/><ellipse cx="360.82" cy="132.50" rx="1.35" ry="1.15"/><ellipse cx="363.29" cy="135.50" rx="1.35" ry="1.15"/><ellipse cx="366.58" cy="134.50" rx="1.35" ry="1.15"/><ellipse cx="364.94" cy="137.50" rx="1.35" ry="1.15"/><ellipse cx="367.90" cy="138.50" rx="1.35" ry="1.15"/><ellipse cx="362.47" cy="140.50" rx="1.35" ry="1.15"/><ellipse cx="361.32" cy="145.50" rx="1.35" ry="1.15"/><ellipse cx="383.37" cy="135.50" rx="1.35" ry="1.15"/><ellipse cx="301.40" cy="155.50" rx="1.35" ry="1.15"/><ellipse cx="302.55" cy="160.50" rx="1.35" ry="1.15"/><ellipse cx="300.58" cy="163.50" rx="1.35" ry="1.15"/><ellipse cx="298.93" cy="167.50" rx="1.35" ry="1.15"/><ellipse cx="300.91" cy="170.50" rx="1.35" ry="1.15"/><ellipse cx="319.18" cy="159.50" rx="1.35" ry="1.15"/><ellipse cx="329.88" cy="154.50" rx="1.35" ry="1.15"/><ellipse cx="347.98" cy="154.50" rx="1.35" ry="1.15"/><ellipse cx="353.74" cy="153.50" rx="1.35" ry="1.15"/><ellipse cx="326.26" cy="171.50" rx="1.35" ry="1.15"/><ellipse cx="333.50" cy="176.50" rx="1.35" ry="1.15"/><ellipse cx="367.13" cy="113.50" rx="1.35" ry="1.15"/><ellipse cx="369.20" cy="94.50" rx="1.35" ry="1.15"/><ellipse cx="382.08" cy="78.50" rx="1.35" ry="1.15"/><ellipse cx="387.85" cy="102.50" rx="1.35" ry="1.15"/><ellipse cx="361.35" cy="94.50" rx="1.35" ry="1.15"/><ellipse cx="361.42" cy="109.50" rx="1.35" ry="1.15"/><ellipse cx="386.40" cy="85.50" rx="1.35" ry="1.15"/><ellipse cx="392.10" cy="69.50" rx="1.35" ry="1.15"/><ellipse cx="389.81" cy="74.50" rx="1.35" ry="1.15"/><ellipse cx="378.52" cy="102.50" rx="1.35" ry="1.15"/><ellipse cx="374.40" cy="89.50" rx="1.35" ry="1.15"/><ellipse cx="371.85" cy="98.50" rx="1.35" ry="1.15"/><ellipse cx="385.95" cy="83.50" rx="1.35" ry="1.15"/><ellipse cx="384.17" cy="86.50" rx="1.35" ry="1.15"/><ellipse cx="368.71" cy="96.50" rx="1.35" ry="1.15"/><ellipse cx="371.78" cy="92.50" rx="1.35" ry="1.15"/><ellipse cx="394.11" cy="85.50" rx="1.35" ry="1.15"/><ellipse cx="374.26" cy="106.50" rx="1.35" ry="1.15"/><ellipse cx="363.40" cy="103.50" rx="1.35" ry="1.15"/><ellipse cx="375.09" cy="95.50" rx="1.35" ry="1.15"/><ellipse cx="383.08" cy="69.50" rx="1.35" ry="1.15"/><ellipse cx="377.10" cy="103.50" rx="1.35" ry="1.15"/><ellipse cx="359.93" cy="94.50" rx="1.35" ry="1.15"/><ellipse cx="382.65" cy="85.50" rx="1.35" ry="1.15"/><ellipse cx="377.10" cy="106.50" rx="1.35" ry="1.15"/><ellipse cx="369.01" cy="81.50" rx="1.35" ry="1.15"/><ellipse cx="390.05" cy="66.50" rx="1.35" ry="1.15"/><ellipse cx="371.79" cy="109.50" rx="1.35" ry="1.15"/><ellipse cx="384.72" cy="93.50" rx="1.35" ry="1.15"/><ellipse cx="375.18" cy="115.50" rx="1.35" ry="1.15"/><ellipse cx="388.02" cy="80.50" rx="1.35" ry="1.15"/><ellipse cx="390.88" cy="87.50" rx="1.35" ry="1.15"/><ellipse cx="381.80" cy="81.50" rx="1.35" ry="1.15"/><ellipse cx="379.27" cy="108.50" rx="1.35" ry="1.15"/><ellipse cx="385.01" cy="78.50" rx="1.35" ry="1.15"/><ellipse cx="382.83" cy="91.50" rx="1.35" ry="1.15"/><ellipse cx="376.10" cy="100.50" rx="1.35" ry="1.15"/><ellipse cx="380.61" cy="80.50" rx="1.35" ry="1.15"/><ellipse cx="368.40" cy="86.50" rx="1.35" ry="1.15"/><ellipse cx="376.12" cy="92.50" rx="1.35" ry="1.15"/><ellipse cx="386.92" cy="73.50" rx="1.35" ry="1.15"/><ellipse cx="373.47" cy="95.50" rx="1.35" ry="1.15"/><ellipse cx="382.66" cy="109.50" rx="1.35" ry="1.15"/><ellipse cx="369.62" cy="77.50" rx="1.35" ry="1.15"/><ellipse cx="385.96" cy="94.50" rx="1.35" ry="1.15"/><ellipse cx="367.22" cy="112.50" rx="1.35" ry="1.15"/><ellipse cx="375.18" cy="83.50" rx="1.35" ry="1.15"/><ellipse cx="363.41" cy="113.50" rx="1.35" ry="1.15"/><ellipse cx="368.25" cy="92.50" rx="1.35" ry="1.15"/><ellipse cx="379.97" cy="97.50" rx="1.35" ry="1.15"/><ellipse cx="359.30" cy="95.50" rx="1.35" ry="1.15"/><ellipse cx="373.50" cy="102.50" rx="1.35" ry="1.15"/><ellipse cx="362.00" cy="108.50" rx="1.35" ry="1.15"/><ellipse cx="367.00" cy="87.50" rx="1.35" ry="1.15"/><ellipse cx="366.75" cy="82.50" rx="1.35" ry="1.15"/><ellipse cx="377.67" cy="102.50" rx="1.35" ry="1.15"/><ellipse cx="363.77" cy="88.50" rx="1.35" ry="1.15"/><ellipse cx="386.96" cy="69.50" rx="1.35" ry="1.15"/><ellipse cx="376.66" cy="66.50" rx="1.35" ry="1.15"/><ellipse cx="360.22" cy="115.50" rx="1.35" ry="1.15"/><ellipse cx="375.31" cy="97.50" rx="1.35" ry="1.15"/><ellipse cx="377.09" cy="102.50" rx="1.35" ry="1.15"/><ellipse cx="379.44" cy="69.50" rx="1.35" ry="1.15"/><ellipse cx="362.95" cy="110.50" rx="1.35" ry="1.15"/><ellipse cx="388.04" cy="82.50" rx="1.35" ry="1.15"/><ellipse cx="365.16" cy="92.50" rx="1.35" ry="1.15"/><ellipse cx="383.52" cy="95.50" rx="1.35" ry="1.15"/><ellipse cx="381.51" cy="107.50" rx="1.35" ry="1.15"/><ellipse cx="379.62" cy="89.50" rx="1.35" ry="1.15"/><ellipse cx="382.64" cy="105.50" rx="1.35" ry="1.15"/><ellipse cx="363.65" cy="85.50" rx="1.35" ry="1.15"/><ellipse cx="377.81" cy="77.50" rx="1.35" ry="1.15"/><ellipse cx="384.44" cy="76.50" rx="1.35" ry="1.15"/><ellipse cx="372.79" cy="101.50" rx="1.35" ry="1.15"/><ellipse cx="365.46" cy="95.50" rx="1.35" ry="1.15"/><ellipse cx="382.69" cy="94.50" rx="1.35" ry="1.15"/><ellipse cx="375.44" cy="90.50" rx="1.35" ry="1.15"/><ellipse cx="376.58" cy="101.50" rx="1.35" ry="1.15"/><ellipse cx="385.45" cy="91.50" rx="1.35" ry="1.15"/><ellipse cx="364.45" cy="114.50" rx="1.35" ry="1.15"/><ellipse cx="386.73" cy="87.50" rx="1.35" ry="1.15"/><ellipse cx="355.06" cy="109.50" rx="1.35" ry="1.15"/><ellipse cx="384.06" cy="96.50" rx="1.35" ry="1.15"/><ellipse cx="370.63" cy="69.50" rx="1.35" ry="1.15"/><ellipse cx="386.22" cy="94.50" rx="1.35" ry="1.15"/><ellipse cx="367.32" cy="87.50" rx="1.35" ry="1.15"/><ellipse cx="359.71" cy="96.50" rx="1.35" ry="1.15"/><ellipse cx="381.68" cy="73.50" rx="1.35" ry="1.15"/><ellipse cx="365.49" cy="94.50" rx="1.35" ry="1.15"/><ellipse cx="367.19" cy="90.50" rx="1.35" ry="1.15"/><ellipse cx="377.79" cy="81.50" rx="1.35" ry="1.15"/><ellipse cx="379.98" cy="87.50" rx="1.35" ry="1.15"/><ellipse cx="368.53" cy="91.50" rx="1.35" ry="1.15"/><ellipse cx="375.88" cy="80.50" rx="1.35" ry="1.15"/><ellipse cx="378.90" cy="78.50" rx="1.35" ry="1.15"/><ellipse cx="373.65" cy="87.50" rx="1.35" ry="1.15"/><ellipse cx="375.23" cy="74.50" rx="1.35" ry="1.15"/><ellipse cx="378.60" cy="92.50" rx="1.35" ry="1.15"/><ellipse cx="373.14" cy="76.50" rx="1.35" ry="1.15"/><ellipse cx="379.93" cy="68.50" rx="1.35" ry="1.15"/><ellipse cx="380.38" cy="73.50" rx="1.35" ry="1.15"/><ellipse cx="365.50" cy="88.50" rx="1.35" ry="1.15"/><ellipse cx="382.84" cy="100.50" rx="1.35" ry="1.15"/><ellipse cx="380.47" cy="71.50" rx="1.35" ry="1.15"/><ellipse cx="391.17" cy="79.50" rx="1.35" ry="1.15"/><ellipse cx="370.87" cy="89.50" rx="1.35" ry="1.15"/><ellipse cx="384.33" cy="76.50" rx="1.35" ry="1.15"/><ellipse cx="369.58" cy="100.50" rx="1.35" ry="1.15"/><ellipse cx="377.90" cy="103.50" rx="1.35" ry="1.15"/><ellipse cx="369.01" cy="116.50" rx="1.35" ry="1.15"/><ellipse cx="374.43" cy="113.50" rx="1.35" ry="1.15"/><ellipse cx="387.47" cy="106.50" rx="1.35" ry="1.15"/><ellipse cx="386.95" cy="109.50" rx="1.35" ry="1.15"/><ellipse cx="380.77" cy="103.50" rx="1.35" ry="1.15"/><ellipse cx="369.23" cy="107.50" rx="1.35" ry="1.15"/><ellipse cx="368.15" cy="126.50" rx="1.35" ry="1.15"/><ellipse cx="378.74" cy="111.50" rx="1.35" ry="1.15"/><ellipse cx="370.05" cy="100.50" rx="1.35" ry="1.15"/><ellipse cx="365.36" cy="113.50" rx="1.35" ry="1.15"/><ellipse cx="381.87" cy="96.50" rx="1.35" ry="1.15"/><ellipse cx="371.38" cy="104.50" rx="1.35" ry="1.15"/><ellipse cx="366.08" cy="121.50" rx="1.35" ry="1.15"/><ellipse cx="379.91" cy="111.50" rx="1.35" ry="1.15"/><ellipse cx="371.25" cy="127.50" rx="1.35" ry="1.15"/><ellipse cx="368.70" cy="116.50" rx="1.35" ry="1.15"/><ellipse cx="372.24" cy="111.50" rx="1.35" ry="1.15"/><ellipse cx="385.88" cy="106.50" rx="1.35" ry="1.15"/><ellipse cx="375.08" cy="102.50" rx="1.35" ry="1.15"/><ellipse cx="382.06" cy="104.50" rx="1.35" ry="1.15"/><ellipse cx="383.69" cy="99.50" rx="1.35" ry="1.15"/><ellipse cx="362.92" cy="124.50" rx="1.35" ry="1.15"/><ellipse cx="381.52" cy="116.50" rx="1.35" ry="1.15"/><ellipse cx="382.88" cy="113.50" rx="1.35" ry="1.15"/><ellipse cx="370.18" cy="101.50" rx="1.35" ry="1.15"/><ellipse cx="381.31" cy="109.50" rx="1.35" ry="1.15"/><ellipse cx="368.71" cy="98.50" rx="1.35" ry="1.15"/><ellipse cx="375.21" cy="101.50" rx="1.35" ry="1.15"/><ellipse cx="385.94" cy="97.50" rx="1.35" ry="1.15"/><ellipse cx="389.83" cy="87.50" rx="1.35" ry="1.15"/><ellipse cx="371.29" cy="104.50" rx="1.35" ry="1.15"/><ellipse cx="382.15" cy="96.50" rx="1.35" ry="1.15"/><ellipse cx="381.46" cy="107.50" rx="1.35" ry="1.15"/><ellipse cx="375.47" cy="116.50" rx="1.35" ry="1.15"/><ellipse cx="381.86" cy="108.50" rx="1.35" ry="1.15"/><ellipse cx="373.90" cy="114.50" rx="1.35" ry="1.15"/><ellipse cx="364.72" cy="127.50" rx="1.35" ry="1.15"/><ellipse cx="385.48" cy="111.50" rx="1.35" ry="1.15"/><ellipse cx="378.25" cy="95.50" rx="1.35" ry="1.15"/><ellipse cx="368.92" cy="109.50" rx="1.35" ry="1.15"/><ellipse cx="361.60" cy="109.50" rx="1.35" ry="1.15"/><ellipse cx="371.29" cy="111.50" rx="1.35" ry="1.15"/><ellipse cx="383.56" cy="114.50" rx="1.35" ry="1.15"/><ellipse cx="369.78" cy="101.50" rx="1.35" ry="1.15"/></g>
<rect x="280.50" y="28.90" width="164.00" height="158.05" fill="none" stroke="#000" stroke-width="1.1"/>
<path d="M286.50 186.95V193.15M280.5 181.0H274.0M311.83 186.95V193.15M280.5 156.6H274.0M337.17 186.95V193.15M280.5 132.2H274.0M362.50 186.95V193.15M280.5 107.8H274.0M387.83 186.95V193.15M280.5 83.3H274.0M413.17 186.95V193.15M280.5 58.9H274.0M438.50 186.95V193.15M280.5 34.5H274.0" stroke="#000" stroke-width="1.1" fill="none"/>
<clipPath id="c1"><rect x="280.50" y="28.90" width="164.00" height="158.05"/></clipPath>
<line clip-path="url(#c1)" x1="271.30" y1="195.65" x2="453.70" y2="19.85" stroke="#f00" stroke-width="1.2"/>
<text x="286.5" y="208.5" font-size="10" text-anchor="middle">2000</text>
<text transform="translate(267.9,181.0) rotate(-90)" font-size="10" text-anchor="middle">2000</text>
<text x="337.2" y="208.5" font-size="10" text-anchor="middle">3000</text>
<text transform="translate(267.9,132.2) rotate(-90)" font-size="10" text-anchor="middle">3000</text>
<text x="387.8" y="208.5" font-size="10" text-anchor="middle">4000</text>
<text transform="translate(267.9,83.3) rotate(-90)" font-size="10" text-anchor="middle">4000</text>
<text x="438.5" y="208.5" font-size="10" text-anchor="middle">5000</text>
<text transform="translate(267.9,34.5) rotate(-90)" font-size="10" text-anchor="middle">5000</text>
<text x="362.5" y="232.0" font-size="10" text-anchor="middle">Estimated birth weight</text>
<text transform="translate(244.0,107.9) rotate(-90)" font-size="10" text-anchor="middle">Birth weight</text>
<text x="362.9" y="243.5" font-size="10" text-anchor="middle">R<tspan dy="-5.5" font-size="6.8">2</tspan><tspan dy="5.5" dx="0.6">=0.46</tspan></text>
<text x="598.5" y="9.5" font-size="12.2" font-weight="bold" text-anchor="middle">Lasso Min (416 Predictors)</text>
<g fill="none" stroke="#000" stroke-width="1.3"><ellipse cx="592.21" cy="51.50" rx="1.35" ry="1.15"/><ellipse cx="604.23" cy="36.50" rx="1.35" ry="1.15"/><ellipse cx="617.07" cy="40.50" rx="1.35" ry="1.15"/><ellipse cx="623.16" cy="44.50" rx="1.35" ry="1.15"/><ellipse cx="628.92" cy="43.50" rx="1.35" ry="1.15"/><ellipse cx="631.39" cy="44.50" rx="1.35" ry="1.15"/><ellipse cx="628.10" cy="46.50" rx="1.35" ry="1.15"/><ellipse cx="630.57" cy="48.50" rx="1.35" ry="1.15"/><ellipse cx="604.56" cy="49.50" rx="1.35" ry="1.15"/><ellipse cx="611.64" cy="50.50" rx="1.35" ry="1.15"/><ellipse cx="622.34" cy="52.50" rx="1.35" ry="1.15"/><ellipse cx="627.28" cy="54.50" rx="1.35" ry="1.15"/><ellipse cx="600.94" cy="55.50" rx="1.35" ry="1.15"/><ellipse cx="614.11" cy="56.50" rx="1.35" ry="1.15"/><ellipse cx="614.93" cy="59.50" rx="1.35" ry="1.15"/><ellipse cx="619.05" cy="58.50" rx="1.35" ry="1.15"/><ellipse cx="622.34" cy="58.50" rx="1.35" ry="1.15"/><ellipse cx="624.81" cy="58.50" rx="1.35" ry="1.15"/><ellipse cx="618.22" cy="60.50" rx="1.35" ry="1.15"/><ellipse cx="620.69" cy="60.50" rx="1.35" ry="1.15"/><ellipse cx="623.16" cy="61.50" rx="1.35" ry="1.15"/><ellipse cx="626.45" cy="60.50" rx="1.35" ry="1.15"/><ellipse cx="627.28" cy="62.50" rx="1.35" ry="1.15"/><ellipse cx="632.54" cy="60.50" rx="1.35" ry="1.15"/><ellipse cx="635.51" cy="59.50" rx="1.35" ry="1.15"/><ellipse cx="633.86" cy="62.50" rx="1.35" ry="1.15"/><ellipse cx="614.11" cy="62.50" rx="1.35" ry="1.15"/><ellipse cx="616.58" cy="64.50" rx="1.35" ry="1.15"/><ellipse cx="607.52" cy="64.50" rx="1.35" ry="1.15"/><ellipse cx="596.82" cy="63.50" rx="1.35" ry="1.15"/><ellipse cx="622.34" cy="66.50" rx="1.35" ry="1.15"/><ellipse cx="633.04" cy="65.50" rx="1.35" ry="1.15"/><ellipse cx="608.35" cy="67.50" rx="1.35" ry="1.15"/><ellipse cx="619.05" cy="67.50" rx="1.35" ry="1.15"/><ellipse cx="624.81" cy="67.50" rx="1.35" ry="1.15"/><ellipse cx="642.58" cy="31.50" rx="1.35" ry="1.15"/><ellipse cx="645.88" cy="35.50" rx="1.35" ry="1.15"/><ellipse cx="642.26" cy="43.50" rx="1.35" ry="1.15"/><ellipse cx="644.23" cy="63.50" rx="1.35" ry="1.15"/><ellipse cx="594.68" cy="75.50" rx="1.35" ry="1.15"/><ellipse cx="590.24" cy="80.50" rx="1.35" ry="1.15"/><ellipse cx="589.74" cy="82.50" rx="1.35" ry="1.15"/><ellipse cx="593.53" cy="84.50" rx="1.35" ry="1.15"/><ellipse cx="577.73" cy="83.50" rx="1.35" ry="1.15"/><ellipse cx="585.96" cy="88.50" rx="1.35" ry="1.15"/><ellipse cx="587.60" cy="94.50" rx="1.35" ry="1.15"/><ellipse cx="593.04" cy="94.50" rx="1.35" ry="1.15"/><ellipse cx="588.92" cy="98.50" rx="1.35" ry="1.15"/><ellipse cx="594.19" cy="98.50" rx="1.35" ry="1.15"/><ellipse cx="591.39" cy="104.50" rx="1.35" ry="1.15"/><ellipse cx="594.68" cy="102.50" rx="1.35" ry="1.15"/><ellipse cx="593.53" cy="107.50" rx="1.35" ry="1.15"/><ellipse cx="579.05" cy="107.50" rx="1.35" ry="1.15"/><ellipse cx="583.98" cy="107.50" rx="1.35" ry="1.15"/><ellipse cx="589.74" cy="107.50" rx="1.35" ry="1.15"/><ellipse cx="605.88" cy="69.50" rx="1.35" ry="1.15"/><ellipse cx="609.17" cy="70.50" rx="1.35" ry="1.15"/><ellipse cx="612.46" cy="68.50" rx="1.35" ry="1.15"/><ellipse cx="616.58" cy="70.50" rx="1.35" ry="1.15"/><ellipse cx="619.87" cy="69.50" rx="1.35" ry="1.15"/><ellipse cx="623.16" cy="70.50" rx="1.35" ry="1.15"/><ellipse cx="626.45" cy="69.50" rx="1.35" ry="1.15"/><ellipse cx="629.74" cy="70.50" rx="1.35" ry="1.15"/><ellipse cx="633.86" cy="69.50" rx="1.35" ry="1.15"/><ellipse cx="606.70" cy="75.50" rx="1.35" ry="1.15"/><ellipse cx="611.64" cy="74.50" rx="1.35" ry="1.15"/><ellipse cx="614.93" cy="72.50" rx="1.35" ry="1.15"/><ellipse cx="618.22" cy="75.50" rx="1.35" ry="1.15"/><ellipse cx="622.34" cy="73.50" rx="1.35" ry="1.15"/><ellipse cx="625.63" cy="74.50" rx="1.35" ry="1.15"/><ellipse cx="629.74" cy="75.50" rx="1.35" ry="1.15"/><ellipse cx="633.04" cy="73.50" rx="1.35" ry="1.15"/><ellipse cx="600.12" cy="79.50" rx="1.35" ry="1.15"/><ellipse cx="608.35" cy="77.50" rx="1.35" ry="1.15"/><ellipse cx="612.46" cy="80.50" rx="1.35" ry="1.15"/><ellipse cx="615.75" cy="78.50" rx="1.35" ry="1.15"/><ellipse cx="620.69" cy="77.50" rx="1.35" ry="1.15"/><ellipse cx="623.98" cy="79.50" rx="1.35" ry="1.15"/><ellipse cx="628.10" cy="78.50" rx="1.35" ry="1.15"/><ellipse cx="631.39" cy="79.50" rx="1.35" ry="1.15"/><ellipse cx="596.82" cy="81.50" rx="1.35" ry="1.15"/><ellipse cx="602.58" cy="82.50" rx="1.35" ry="1.15"/><ellipse cx="605.88" cy="84.50" rx="1.35" ry="1.15"/><ellipse cx="609.99" cy="81.50" rx="1.35" ry="1.15"/><ellipse cx="613.28" cy="83.50" rx="1.35" ry="1.15"/><ellipse cx="617.40" cy="82.50" rx="1.35" ry="1.15"/><ellipse cx="621.51" cy="81.50" rx="1.35" ry="1.15"/><ellipse cx="625.63" cy="83.50" rx="1.35" ry="1.15"/><ellipse cx="628.92" cy="82.50" rx="1.35" ry="1.15"/><ellipse cx="633.53" cy="84.50" rx="1.35" ry="1.15"/><ellipse cx="598.47" cy="86.50" rx="1.35" ry="1.15"/><ellipse cx="600.94" cy="87.50" rx="1.35" ry="1.15"/><ellipse cx="605.05" cy="86.50" rx="1.35" ry="1.15"/><ellipse cx="608.35" cy="85.50" rx="1.35" ry="1.15"/><ellipse cx="612.46" cy="87.50" rx="1.35" ry="1.15"/><ellipse cx="615.75" cy="86.50" rx="1.35" ry="1.15"/><ellipse cx="619.87" cy="87.50" rx="1.35" ry="1.15"/><ellipse cx="623.16" cy="85.50" rx="1.35" ry="1.15"/><ellipse cx="626.45" cy="87.50" rx="1.35" ry="1.15"/><ellipse cx="629.74" cy="86.50" rx="1.35" ry="1.15"/><ellipse cx="633.86" cy="86.50" rx="1.35" ry="1.15"/><ellipse cx="597.65" cy="90.50" rx="1.35" ry="1.15"/><ellipse cx="601.76" cy="91.50" rx="1.35" ry="1.15"/><ellipse cx="605.05" cy="89.50" rx="1.35" ry="1.15"/><ellipse cx="609.17" cy="91.50" rx="1.35" ry="1.15"/><ellipse cx="612.46" cy="90.50" rx="1.35" ry="1.15"/><ellipse cx="616.58" cy="92.50" rx="1.35" ry="1.15"/><ellipse cx="620.69" cy="91.50" rx="1.35" ry="1.15"/><ellipse cx="624.81" cy="89.50" rx="1.35" ry="1.15"/><ellipse cx="628.10" cy="91.50" rx="1.35" ry="1.15"/><ellipse cx="631.39" cy="89.50" rx="1.35" ry="1.15"/><ellipse cx="635.18" cy="91.50" rx="1.35" ry="1.15"/><ellipse cx="599.29" cy="94.50" rx="1.35" ry="1.15"/><ellipse cx="603.41" cy="95.50" rx="1.35" ry="1.15"/><ellipse cx="606.70" cy="93.50" rx="1.35" ry="1.15"/><ellipse cx="610.81" cy="95.50" rx="1.35" ry="1.15"/><ellipse cx="614.11" cy="94.50" rx="1.35" ry="1.15"/><ellipse cx="619.05" cy="95.50" rx="1.35" ry="1.15"/><ellipse cx="622.34" cy="93.50" rx="1.35" ry="1.15"/><ellipse cx="625.63" cy="95.50" rx="1.35" ry="1.15"/><ellipse cx="628.92" cy="94.50" rx="1.35" ry="1.15"/><ellipse cx="633.04" cy="95.50" rx="1.35" ry="1.15"/><ellipse cx="597.65" cy="98.50" rx="1.35" ry="1.15"/><ellipse cx="600.94" cy="100.50" rx="1.35" ry="1.15"/><ellipse cx="605.05" cy="97.50" rx="1.35" ry="1.15"/><ellipse cx="609.17" cy="99.50" rx="1.35" ry="1.15"/><ellipse cx="612.46" cy="98.50" rx="1.35" ry="1.15"/><ellipse cx="616.58" cy="100.50" rx="1.35" ry="1.15"/><ellipse cx="620.69" cy="98.50" rx="1.35" ry="1.15"/><ellipse cx="624.81" cy="100.50" rx="1.35" ry="1.15"/><ellipse cx="628.10" cy="98.50" rx="1.35" ry="1.15"/><ellipse cx="632.21" cy="100.50" rx="1.35" ry="1.15"/><ellipse cx="599.29" cy="103.50" rx="1.35" ry="1.15"/><ellipse cx="602.58" cy="101.50" rx="1.35" ry="1.15"/><ellipse cx="606.70" cy="104.50" rx="1.35" ry="1.15"/><ellipse cx="610.81" cy="102.50" rx="1.35" ry="1.15"/><ellipse cx="614.93" cy="103.50" rx="1.35" ry="1.15"/><ellipse cx="619.05" cy="101.50" rx="1.35" ry="1.15"/><ellipse cx="622.34" cy="104.50" rx="1.35" ry="1.15"/><ellipse cx="626.45" cy="102.50" rx="1.35" ry="1.15"/><ellipse cx="630.57" cy="104.50" rx="1.35" ry="1.15"/><ellipse cx="634.68" cy="102.50" rx="1.35" ry="1.15"/><ellipse cx="596.82" cy="106.50" rx="1.35" ry="1.15"/><ellipse cx="600.94" cy="107.50" rx="1.35" ry="1.15"/><ellipse cx="605.05" cy="106.50" rx="1.35" ry="1.15"/><ellipse cx="609.17" cy="107.50" rx="1.35" ry="1.15"/><ellipse cx="613.28" cy="106.50" rx="1.35" ry="1.15"/><ellipse cx="617.40" cy="107.50" rx="1.35" ry="1.15"/><ellipse cx="621.51" cy="106.50" rx="1.35" ry="1.15"/><ellipse cx="626.45" cy="107.50" rx="1.35" ry="1.15"/><ellipse cx="631.39" cy="106.50" rx="1.35" ry="1.15"/><ellipse cx="645.88" cy="69.50" rx="1.35" ry="1.15"/><ellipse cx="648.35" cy="69.50" rx="1.35" ry="1.15"/><ellipse cx="642.26" cy="74.50" rx="1.35" ry="1.15"/><ellipse cx="647.52" cy="75.50" rx="1.35" ry="1.15"/><ellipse cx="640.12" cy="78.50" rx="1.35" ry="1.15"/><ellipse cx="639.29" cy="94.50" rx="1.35" ry="1.15"/><ellipse cx="643.41" cy="94.50" rx="1.35" ry="1.15"/><ellipse cx="642.58" cy="103.50" rx="1.35" ry="1.15"/><ellipse cx="548.92" cy="140.50" rx="1.35" ry="1.15"/><ellipse cx="553.04" cy="140.50" rx="1.35" ry="1.15"/><ellipse cx="563.41" cy="109.50" rx="1.35" ry="1.15"/><ellipse cx="574.11" cy="113.50" rx="1.35" ry="1.15"/><ellipse cx="579.05" cy="108.50" rx="1.35" ry="1.15"/><ellipse cx="583.16" cy="110.50" rx="1.35" ry="1.15"/><ellipse cx="587.28" cy="110.50" rx="1.35" ry="1.15"/><ellipse cx="591.39" cy="108.50" rx="1.35" ry="1.15"/><ellipse cx="594.68" cy="109.50" rx="1.35" ry="1.15"/><ellipse cx="583.65" cy="114.50" rx="1.35" ry="1.15"/><ellipse cx="586.45" cy="116.50" rx="1.35" ry="1.15"/><ellipse cx="590.57" cy="113.50" rx="1.35" ry="1.15"/><ellipse cx="593.53" cy="115.50" rx="1.35" ry="1.15"/><ellipse cx="584.81" cy="120.50" rx="1.35" ry="1.15"/><ellipse cx="588.92" cy="121.50" rx="1.35" ry="1.15"/><ellipse cx="592.21" cy="122.50" rx="1.35" ry="1.15"/><ellipse cx="594.68" cy="120.50" rx="1.35" ry="1.15"/><ellipse cx="569.99" cy="125.50" rx="1.35" ry="1.15"/><ellipse cx="572.46" cy="125.50" rx="1.35" ry="1.15"/><ellipse cx="574.93" cy="125.50" rx="1.35" ry="1.15"/><ellipse cx="583.16" cy="124.50" rx="1.35" ry="1.15"/><ellipse cx="586.45" cy="125.50" rx="1.35" ry="1.15"/><ellipse cx="588.92" cy="126.50" rx="1.35" ry="1.15"/><ellipse cx="591.39" cy="126.50" rx="1.35" ry="1.15"/><ellipse cx="585.63" cy="128.50" rx="1.35" ry="1.15"/><ellipse cx="588.10" cy="129.50" rx="1.35" ry="1.15"/><ellipse cx="590.57" cy="128.50" rx="1.35" ry="1.15"/><ellipse cx="593.04" cy="126.50" rx="1.35" ry="1.15"/><ellipse cx="557.98" cy="131.50" rx="1.35" ry="1.15"/><ellipse cx="567.19" cy="130.50" rx="1.35" ry="1.15"/><ellipse cx="574.11" cy="131.50" rx="1.35" ry="1.15"/><ellipse cx="579.87" cy="131.50" rx="1.35" ry="1.15"/><ellipse cx="585.63" cy="131.50" rx="1.35" ry="1.15"/><ellipse cx="590.57" cy="133.50" rx="1.35" ry="1.15"/><ellipse cx="594.68" cy="134.50" rx="1.35" ry="1.15"/><ellipse cx="583.16" cy="134.50" rx="1.35" ry="1.15"/><ellipse cx="585.63" cy="135.50" rx="1.35" ry="1.15"/><ellipse cx="588.10" cy="135.50" rx="1.35" ry="1.15"/><ellipse cx="564.56" cy="136.50" rx="1.35" ry="1.15"/><ellipse cx="572.46" cy="134.50" rx="1.35" ry="1.15"/><ellipse cx="573.28" cy="136.50" rx="1.35" ry="1.15"/><ellipse cx="571.14" cy="139.50" rx="1.35" ry="1.15"/><ellipse cx="572.46" cy="140.50" rx="1.35" ry="1.15"/><ellipse cx="557.32" cy="141.50" rx="1.35" ry="1.15"/><ellipse cx="583.16" cy="145.50" rx="1.35" ry="1.15"/><ellipse cx="588.10" cy="145.50" rx="1.35" ry="1.15"/><ellipse cx="592.21" cy="143.50" rx="1.35" ry="1.15"/><ellipse cx="566.70" cy="147.50" rx="1.35" ry="1.15"/><ellipse cx="580.69" cy="147.50" rx="1.35" ry="1.15"/><ellipse cx="594.68" cy="146.50" rx="1.35" ry="1.15"/><ellipse cx="597.65" cy="109.50" rx="1.35" ry="1.15"/><ellipse cx="600.94" cy="108.50" rx="1.35" ry="1.15"/><ellipse cx="604.23" cy="109.50" rx="1.35" ry="1.15"/><ellipse cx="608.35" cy="108.50" rx="1.35" ry="1.15"/><ellipse cx="612.46" cy="111.50" rx="1.35" ry="1.15"/><ellipse cx="617.40" cy="110.50" rx="1.35" ry="1.15"/><ellipse cx="620.69" cy="108.50" rx="1.35" ry="1.15"/><ellipse cx="621.51" cy="112.50" rx="1.35" ry="1.15"/><ellipse cx="618.22" cy="113.50" rx="1.35" ry="1.15"/><ellipse cx="615.42" cy="114.50" rx="1.35" ry="1.15"/><ellipse cx="611.64" cy="114.50" rx="1.35" ry="1.15"/><ellipse cx="608.35" cy="115.50" rx="1.35" ry="1.15"/><ellipse cx="605.05" cy="114.50" rx="1.35" ry="1.15"/><ellipse cx="600.94" cy="113.50" rx="1.35" ry="1.15"/><ellipse cx="598.47" cy="115.50" rx="1.35" ry="1.15"/><ellipse cx="596.82" cy="117.50" rx="1.35" ry="1.15"/><ellipse cx="600.12" cy="118.50" rx="1.35" ry="1.15"/><ellipse cx="603.41" cy="119.50" rx="1.35" ry="1.15"/><ellipse cx="606.70" cy="119.50" rx="1.35" ry="1.15"/><ellipse cx="609.99" cy="118.50" rx="1.35" ry="1.15"/><ellipse cx="613.28" cy="119.50" rx="1.35" ry="1.15"/><ellipse cx="616.58" cy="119.50" rx="1.35" ry="1.15"/><ellipse cx="620.69" cy="117.50" rx="1.35" ry="1.15"/><ellipse cx="623.98" cy="117.50" rx="1.35" ry="1.15"/><ellipse cx="620.69" cy="121.50" rx="1.35" ry="1.15"/><ellipse cx="616.58" cy="121.50" rx="1.35" ry="1.15"/><ellipse cx="611.64" cy="122.50" rx="1.35" ry="1.15"/><ellipse cx="609.17" cy="124.50" rx="1.35" ry="1.15"/><ellipse cx="605.05" cy="124.50" rx="1.35" ry="1.15"/><ellipse cx="601.76" cy="123.50" rx="1.35" ry="1.15"/><ellipse cx="598.47" cy="122.50" rx="1.35" ry="1.15"/><ellipse cx="596.82" cy="125.50" rx="1.35" ry="1.15"/><ellipse cx="599.29" cy="127.50" rx="1.35" ry="1.15"/><ellipse cx="602.58" cy="128.50" rx="1.35" ry="1.15"/><ellipse cx="613.28" cy="126.50" rx="1.35" ry="1.15"/><ellipse cx="612.46" cy="127.50" rx="1.35" ry="1.15"/><ellipse cx="600.94" cy="131.50" rx="1.35" ry="1.15"/><ellipse cx="603.41" cy="133.50" rx="1.35" ry="1.15"/><ellipse cx="598.47" cy="134.50" rx="1.35" ry="1.15"/><ellipse cx="600.12" cy="135.50" rx="1.35" ry="1.15"/><ellipse cx="602.58" cy="137.50" rx="1.35" ry="1.15"/><ellipse cx="604.23" cy="138.50" rx="1.35" ry="1.15"/><ellipse cx="613.28" cy="135.50" rx="1.35" ry="1.15"/><ellipse cx="613.28" cy="140.50" rx="1.35" ry="1.15"/><ellipse cx="596.82" cy="140.50" rx="1.35" ry="1.15"/><ellipse cx="628.92" cy="114.50" rx="1.35" ry="1.15"/><ellipse cx="539.05" cy="155.50" rx="1.35" ry="1.15"/><ellipse cx="545.30" cy="160.50" rx="1.35" ry="1.15"/><ellipse cx="537.40" cy="163.50" rx="1.35" ry="1.15"/><ellipse cx="525.88" cy="167.50" rx="1.35" ry="1.15"/><ellipse cx="539.54" cy="169.50" rx="1.35" ry="1.15"/><ellipse cx="567.52" cy="154.50" rx="1.35" ry="1.15"/><ellipse cx="588.10" cy="154.50" rx="1.35" ry="1.15"/><ellipse cx="589.74" cy="153.50" rx="1.35" ry="1.15"/><ellipse cx="560.61" cy="159.50" rx="1.35" ry="1.15"/><ellipse cx="557.32" cy="171.50" rx="1.35" ry="1.15"/><ellipse cx="562.26" cy="176.50" rx="1.35" ry="1.15"/><ellipse cx="617.04" cy="103.50" rx="1.35" ry="1.15"/><ellipse cx="588.17" cy="102.50" rx="1.35" ry="1.15"/><ellipse cx="613.97" cy="95.50" rx="1.35" ry="1.15"/><ellipse cx="614.46" cy="92.50" rx="1.35" ry="1.15"/><ellipse cx="602.87" cy="95.50" rx="1.35" ry="1.15"/><ellipse cx="600.61" cy="106.50" rx="1.35" ry="1.15"/><ellipse cx="611.87" cy="105.50" rx="1.35" ry="1.15"/><ellipse cx="604.48" cy="81.50" rx="1.35" ry="1.15"/><ellipse cx="613.90" cy="85.50" rx="1.35" ry="1.15"/><ellipse cx="600.40" cy="80.50" rx="1.35" ry="1.15"/><ellipse cx="602.73" cy="80.50" rx="1.35" ry="1.15"/><ellipse cx="616.54" cy="69.50" rx="1.35" ry="1.15"/><ellipse cx="620.09" cy="105.50" rx="1.35" ry="1.15"/><ellipse cx="594.64" cy="122.50" rx="1.35" ry="1.15"/><ellipse cx="596.29" cy="110.50" rx="1.35" ry="1.15"/><ellipse cx="607.08" cy="110.50" rx="1.35" ry="1.15"/><ellipse cx="608.69" cy="101.50" rx="1.35" ry="1.15"/><ellipse cx="601.60" cy="79.50" rx="1.35" ry="1.15"/><ellipse cx="618.21" cy="73.50" rx="1.35" ry="1.15"/><ellipse cx="590.58" cy="118.50" rx="1.35" ry="1.15"/><ellipse cx="622.90" cy="86.50" rx="1.35" ry="1.15"/><ellipse cx="603.87" cy="106.50" rx="1.35" ry="1.15"/><ellipse cx="618.06" cy="96.50" rx="1.35" ry="1.15"/><ellipse cx="614.65" cy="101.50" rx="1.35" ry="1.15"/><ellipse cx="596.32" cy="106.50" rx="1.35" ry="1.15"/><ellipse cx="619.33" cy="88.50" rx="1.35" ry="1.15"/><ellipse cx="612.69" cy="98.50" rx="1.35" ry="1.15"/><ellipse cx="615.95" cy="95.50" rx="1.35" ry="1.15"/><ellipse cx="621.93" cy="79.50" rx="1.35" ry="1.15"/><ellipse cx="612.58" cy="81.50" rx="1.35" ry="1.15"/><ellipse cx="612.30" cy="89.50" rx="1.35" ry="1.15"/><ellipse cx="599.61" cy="80.50" rx="1.35" ry="1.15"/><ellipse cx="600.78" cy="100.50" rx="1.35" ry="1.15"/><ellipse cx="609.51" cy="72.50" rx="1.35" ry="1.15"/><ellipse cx="624.80" cy="95.50" rx="1.35" ry="1.15"/><ellipse cx="606.00" cy="118.50" rx="1.35" ry="1.15"/><ellipse cx="589.98" cy="112.50" rx="1.35" ry="1.15"/><ellipse cx="619.14" cy="97.50" rx="1.35" ry="1.15"/><ellipse cx="593.08" cy="112.50" rx="1.35" ry="1.15"/><ellipse cx="607.64" cy="117.50" rx="1.35" ry="1.15"/><ellipse cx="608.34" cy="106.50" rx="1.35" ry="1.15"/><ellipse cx="622.41" cy="90.50" rx="1.35" ry="1.15"/><ellipse cx="614.62" cy="90.50" rx="1.35" ry="1.15"/><ellipse cx="621.67" cy="79.50" rx="1.35" ry="1.15"/><ellipse cx="594.57" cy="113.50" rx="1.35" ry="1.15"/><ellipse cx="617.17" cy="82.50" rx="1.35" ry="1.15"/><ellipse cx="607.65" cy="102.50" rx="1.35" ry="1.15"/><ellipse cx="616.02" cy="90.50" rx="1.35" ry="1.15"/><ellipse cx="615.18" cy="104.50" rx="1.35" ry="1.15"/><ellipse cx="618.67" cy="84.50" rx="1.35" ry="1.15"/><ellipse cx="606.82" cy="121.50" rx="1.35" ry="1.15"/><ellipse cx="614.43" cy="83.50" rx="1.35" ry="1.15"/><ellipse cx="597.16" cy="113.50" rx="1.35" ry="1.15"/><ellipse cx="598.57" cy="100.50" rx="1.35" ry="1.15"/><ellipse cx="617.88" cy="80.50" rx="1.35" ry="1.15"/><ellipse cx="611.88" cy="72.50" rx="1.35" ry="1.15"/><ellipse cx="617.08" cy="103.50" rx="1.35" ry="1.15"/><ellipse cx="606.16" cy="87.50" rx="1.35" ry="1.15"/><ellipse cx="597.16" cy="107.50" rx="1.35" ry="1.15"/><ellipse cx="613.05" cy="99.50" rx="1.35" ry="1.15"/><ellipse cx="615.41" cy="96.50" rx="1.35" ry="1.15"/><ellipse cx="616.49" cy="83.50" rx="1.35" ry="1.15"/><ellipse cx="624.67" cy="78.50" rx="1.35" ry="1.15"/><ellipse cx="606.04" cy="97.50" rx="1.35" ry="1.15"/><ellipse cx="603.23" cy="93.50" rx="1.35" ry="1.15"/><ellipse cx="598.01" cy="116.50" rx="1.35" ry="1.15"/><ellipse cx="608.78" cy="105.50" rx="1.35" ry="1.15"/><ellipse cx="604.55" cy="105.50" rx="1.35" ry="1.15"/><ellipse cx="606.94" cy="90.50" rx="1.35" ry="1.15"/><ellipse cx="605.06" cy="89.50" rx="1.35" ry="1.15"/><ellipse cx="611.01" cy="105.50" rx="1.35" ry="1.15"/><ellipse cx="611.86" cy="89.50" rx="1.35" ry="1.15"/><ellipse cx="607.31" cy="110.50" rx="1.35" ry="1.15"/><ellipse cx="618.87" cy="80.50" rx="1.35" ry="1.15"/><ellipse cx="626.16" cy="83.50" rx="1.35" ry="1.15"/><ellipse cx="602.00" cy="103.50" rx="1.35" ry="1.15"/><ellipse cx="613.19" cy="85.50" rx="1.35" ry="1.15"/><ellipse cx="607.10" cy="89.50" rx="1.35" ry="1.15"/><ellipse cx="600.27" cy="111.50" rx="1.35" ry="1.15"/><ellipse cx="609.44" cy="117.50" rx="1.35" ry="1.15"/><ellipse cx="620.82" cy="97.50" rx="1.35" ry="1.15"/><ellipse cx="600.67" cy="117.50" rx="1.35" ry="1.15"/><ellipse cx="586.62" cy="112.50" rx="1.35" ry="1.15"/><ellipse cx="608.06" cy="89.50" rx="1.35" ry="1.15"/><ellipse cx="620.04" cy="88.50" rx="1.35" ry="1.15"/><ellipse cx="602.71" cy="85.50" rx="1.35" ry="1.15"/><ellipse cx="608.87" cy="100.50" rx="1.35" ry="1.15"/><ellipse cx="609.44" cy="93.50" rx="1.35" ry="1.15"/><ellipse cx="603.12" cy="96.50" rx="1.35" ry="1.15"/><ellipse cx="621.49" cy="69.50" rx="1.35" ry="1.15"/><ellipse cx="601.61" cy="118.50" rx="1.35" ry="1.15"/><ellipse cx="603.61" cy="79.50" rx="1.35" ry="1.15"/><ellipse cx="615.19" cy="109.50" rx="1.35" ry="1.15"/><ellipse cx="616.15" cy="89.50" rx="1.35" ry="1.15"/><ellipse cx="615.81" cy="79.50" rx="1.35" ry="1.15"/><ellipse cx="595.76" cy="92.50" rx="1.35" ry="1.15"/><ellipse cx="621.78" cy="91.50" rx="1.35" ry="1.15"/><ellipse cx="624.29" cy="79.50" rx="1.35" ry="1.15"/><ellipse cx="623.43" cy="86.50" rx="1.35" ry="1.15"/><ellipse cx="597.94" cy="90.50" rx="1.35" ry="1.15"/><ellipse cx="612.78" cy="87.50" rx="1.35" ry="1.15"/><ellipse cx="602.87" cy="90.50" rx="1.35" ry="1.15"/><ellipse cx="624.20" cy="79.50" rx="1.35" ry="1.15"/><ellipse cx="608.96" cy="87.50" rx="1.35" ry="1.15"/><ellipse cx="612.25" cy="100.50" rx="1.35" ry="1.15"/><ellipse cx="602.82" cy="102.50" rx="1.35" ry="1.15"/><ellipse cx="613.68" cy="88.50" rx="1.35" ry="1.15"/><ellipse cx="594.91" cy="98.50" rx="1.35" ry="1.15"/><ellipse cx="609.30" cy="85.50" rx="1.35" ry="1.15"/><ellipse cx="619.94" cy="83.50" rx="1.35" ry="1.15"/><ellipse cx="614.75" cy="90.50" rx="1.35" ry="1.15"/><ellipse cx="602.16" cy="110.50" rx="1.35" ry="1.15"/><ellipse cx="612.66" cy="86.50" rx="1.35" ry="1.15"/><ellipse cx="603.12" cy="87.50" rx="1.35" ry="1.15"/><ellipse cx="619.12" cy="96.50" rx="1.35" ry="1.15"/><ellipse cx="618.26" cy="98.50" rx="1.35" ry="1.15"/><ellipse cx="601.43" cy="97.50" rx="1.35" ry="1.15"/><ellipse cx="605.69" cy="86.50" rx="1.35" ry="1.15"/><ellipse cx="600.97" cy="115.50" rx="1.35" ry="1.15"/><ellipse cx="613.95" cy="95.50" rx="1.35" ry="1.15"/><ellipse cx="601.21" cy="102.50" rx="1.35" ry="1.15"/><ellipse cx="609.92" cy="85.50" rx="1.35" ry="1.15"/><ellipse cx="610.09" cy="96.50" rx="1.35" ry="1.15"/><ellipse cx="606.59" cy="103.50" rx="1.35" ry="1.15"/><ellipse cx="603.49" cy="113.50" rx="1.35" ry="1.15"/><ellipse cx="596.37" cy="92.50" rx="1.35" ry="1.15"/><ellipse cx="600.28" cy="106.50" rx="1.35" ry="1.15"/><ellipse cx="608.17" cy="104.50" rx="1.35" ry="1.15"/><ellipse cx="616.11" cy="93.50" rx="1.35" ry="1.15"/><ellipse cx="613.88" cy="98.50" rx="1.35" ry="1.15"/><ellipse cx="613.03" cy="72.50" rx="1.35" ry="1.15"/><ellipse cx="608.39" cy="93.50" rx="1.35" ry="1.15"/><ellipse cx="617.12" cy="98.50" rx="1.35" ry="1.15"/><ellipse cx="601.71" cy="94.50" rx="1.35" ry="1.15"/><ellipse cx="615.37" cy="97.50" rx="1.35" ry="1.15"/><ellipse cx="604.94" cy="89.50" rx="1.35" ry="1.15"/><ellipse cx="602.78" cy="91.50" rx="1.35" ry="1.15"/><ellipse cx="617.59" cy="80.50" rx="1.35" ry="1.15"/><ellipse cx="624.23" cy="77.50" rx="1.35" ry="1.15"/><ellipse cx="607.94" cy="81.50" rx="1.35" ry="1.15"/><ellipse cx="610.88" cy="85.50" rx="1.35" ry="1.15"/><ellipse cx="607.71" cy="100.50" rx="1.35" ry="1.15"/><ellipse cx="624.33" cy="74.50" rx="1.35" ry="1.15"/><ellipse cx="597.77" cy="107.50" rx="1.35" ry="1.15"/><ellipse cx="607.99" cy="90.50" rx="1.35" ry="1.15"/><ellipse cx="594.89" cy="120.50" rx="1.35" ry="1.15"/><ellipse cx="595.17" cy="115.50" rx="1.35" ry="1.15"/><ellipse cx="599.66" cy="127.50" rx="1.35" ry="1.15"/><ellipse cx="594.25" cy="134.50" rx="1.35" ry="1.15"/><ellipse cx="604.80" cy="119.50" rx="1.35" ry="1.15"/><ellipse cx="593.62" cy="118.50" rx="1.35" ry="1.15"/><ellipse cx="591.51" cy="119.50" rx="1.35" ry="1.15"/><ellipse cx="594.59" cy="121.50" rx="1.35" ry="1.15"/><ellipse cx="597.19" cy="132.50" rx="1.35" ry="1.15"/><ellipse cx="593.36" cy="126.50" rx="1.35" ry="1.15"/><ellipse cx="590.36" cy="130.50" rx="1.35" ry="1.15"/><ellipse cx="599.25" cy="124.50" rx="1.35" ry="1.15"/><ellipse cx="595.02" cy="127.50" rx="1.35" ry="1.15"/><ellipse cx="589.78" cy="131.50" rx="1.35" ry="1.15"/><ellipse cx="598.92" cy="121.50" rx="1.35" ry="1.15"/></g>
<rect x="516.50" y="28.90" width="164.00" height="158.05" fill="none" stroke="#000" stroke-width="1.1"/>
<path d="M522.50 186.95V193.15M516.5 181.0H510.0M547.83 186.95V193.15M516.5 156.6H510.0M573.17 186.95V193.15M516.5 132.2H510.0M598.50 186.95V193.15M516.5 107.8H510.0M623.83 186.95V193.15M516.5 83.3H510.0M649.17 186.95V193.15M516.5 58.9H510.0M674.50 186.95V193.15M516.5 34.5H510.0" stroke="#000" stroke-width="1.1" fill="none"/>
<clipPath id="c2"><rect x="516.50" y="28.90" width="164.00" height="158.05"/></clipPath>
<line clip-path="url(#c2)" x1="507.30" y1="195.65" x2="689.70" y2="19.85" stroke="#f00" stroke-width="1.2"/>
<text x="522.5" y="208.5" font-size="10" text-anchor="middle">2000</text>
<text transform="translate(503.9,181.0) rotate(-90)" font-size="10" text-anchor="middle">2000</text>
<text x="573.2" y="208.5" font-size="10" text-anchor="middle">3000</text>
<text transform="translate(503.9,132.2) rotate(-90)" font-size="10" text-anchor="middle">3000</text>
<text x="623.8" y="208.5" font-size="10" text-anchor="middle">4000</text>
<text transform="translate(503.9,83.3) rotate(-90)" font-size="10" text-anchor="middle">4000</text>
<text x="674.5" y="208.5" font-size="10" text-anchor="middle">5000</text>
<text transform="translate(503.9,34.5) rotate(-90)" font-size="10" text-anchor="middle">5000</text>
<text x="598.5" y="232.0" font-size="10" text-anchor="middle">Estimated birth weight</text>
<text transform="translate(480.0,107.9) rotate(-90)" font-size="10" text-anchor="middle">Birth weight</text>
<text x="598.9" y="243.5" font-size="10" text-anchor="middle">R<tspan dy="-5.5" font-size="6.8">2</tspan><tspan dy="5.5" dx="0.6">=0.47</tspan></text>
</svg></body></html>
